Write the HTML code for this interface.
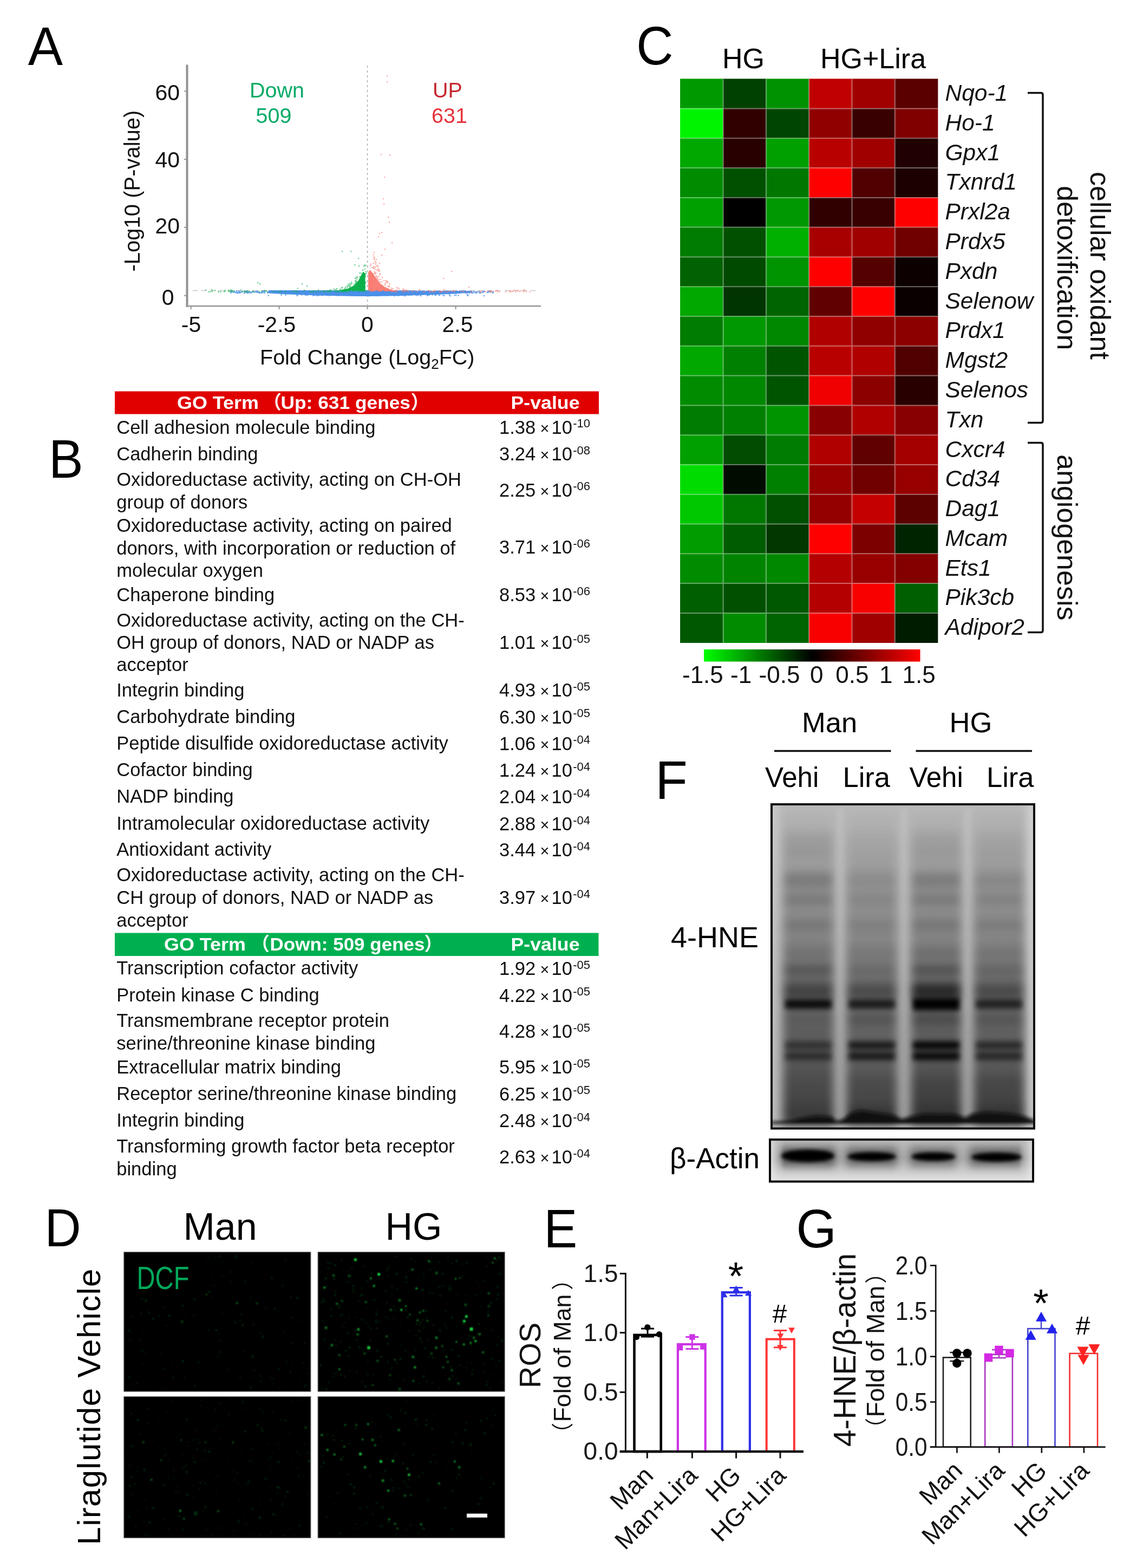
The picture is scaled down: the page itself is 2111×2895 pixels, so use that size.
<!DOCTYPE html>
<html lang="en"><head><meta charset="utf-8"><title>Figure</title>
<style>
html,body{margin:0;padding:0;background:#fff;}
body{width:2111px;height:2895px;overflow:hidden;}
svg{display:block;font-family:'Liberation Sans','Noto Sans CJK SC',sans-serif;}
</style></head><body>
<svg width="2111" height="2895" viewBox="0 0 2111 2895">
<rect width="2111" height="2895" fill="#fff"/>
<g id="panelA">
<text transform="translate(51.8 119.5) scale(0.97 1)" font-size="99.5">A</text>
<line x1="345.50" y1="119.50" x2="345.50" y2="567.00" stroke="#929292" stroke-width="4" />
<line x1="343.50" y1="565.20" x2="999.00" y2="565.20" stroke="#9c9c9c" stroke-width="2.8" />
<line x1="340.00" y1="545.70" x2="344.00" y2="545.70" stroke="#929292" stroke-width="2" />
<line x1="340.00" y1="419.90" x2="344.00" y2="419.90" stroke="#929292" stroke-width="2" />
<line x1="340.00" y1="294.10" x2="344.00" y2="294.10" stroke="#929292" stroke-width="2" />
<line x1="340.00" y1="168.30" x2="344.00" y2="168.30" stroke="#929292" stroke-width="2" />
<line x1="352.60" y1="566.00" x2="352.60" y2="571.00" stroke="#929292" stroke-width="2" />
<line x1="515.60" y1="566.00" x2="515.60" y2="571.00" stroke="#929292" stroke-width="2" />
<line x1="678.60" y1="566.00" x2="678.60" y2="571.00" stroke="#929292" stroke-width="2" />
<line x1="841.60" y1="566.00" x2="841.60" y2="571.00" stroke="#929292" stroke-width="2" />
<line x1="678.60" y1="121.00" x2="678.60" y2="565.00" stroke="#a8a8a8" stroke-width="1.5" stroke-dasharray="4 5"/>
<line x1="356.00" y1="536.50" x2="993.00" y2="536.50" stroke="#c4c4c4" stroke-width="1.5" stroke-dasharray="9 7"/>
<text x="332.0" y="185.0" font-size="41" text-anchor="end" fill="#111">60</text>
<text x="332.0" y="308.5" font-size="41" text-anchor="end" fill="#111">40</text>
<text x="332.0" y="431.0" font-size="41" text-anchor="end" fill="#111">20</text>
<text x="321.5" y="562.5" font-size="41" text-anchor="end" fill="#111">0</text>
<text x="353.0" y="613.0" font-size="41" text-anchor="middle" fill="#111">-5</text>
<text x="511.0" y="613.0" font-size="41" text-anchor="middle" fill="#111">-2.5</text>
<text x="678.3" y="613.0" font-size="41" text-anchor="middle" fill="#111">0</text>
<text x="845.0" y="613.0" font-size="41" text-anchor="middle" fill="#111">2.5</text>
<text x="480.0" y="673.0" font-size="39.5" fill="#111">Fold Change (Log<tspan font-size="26" dy="8">2</tspan><tspan dy="-8">FC)</tspan></text>
<text transform="translate(257.5 501.5) rotate(-90)" font-size="40" fill="#111">-Log10 (P-value)</text>
<text x="461.0" y="180.3" font-size="39.5" fill="#08ab68">Down</text>
<text x="472.5" y="226.8" font-size="39.5" fill="#08ab68">509</text>
<text x="799.0" y="180.3" font-size="39.5" fill="#c42830">UP</text>
<text x="797.0" y="226.8" font-size="39.5" fill="#e8343c">631</text>
<path d="M496 536 L872 536.2 L872 540 L840 542.4 L790 544.6 L730 546.2 L690 547 L660 547 L620 546.2 L560 544.6 L520 543 L496 540.6 Z" fill="#4a90e8"/>
<path d="M620 537 L642 533 L654 527 L662 518 L667 508 L671 502 L674.6 505 L674.6 538 L620 538 Z" fill="#0db14b"/>
<path d="M680 538 L680 503 L683 498 L689 505 L696 516 L703 525 L712 531 L726 536 L738 538 Z" fill="#f8766d" opacity="0.92"/>
<path d="M686.4 539.7h2.4v2.4h-2.4zM468.7 538.2h2.4v2.4h-2.4zM533.5 536.1h2.4v2.4h-2.4zM706.5 536.0h2.4v2.4h-2.4zM447.1 536.5h2.4v2.4h-2.4zM481.9 538.7h2.4v2.4h-2.4zM708.7 538.5h2.4v2.4h-2.4zM453.5 539.1h2.4v2.4h-2.4zM757.0 538.7h2.4v2.4h-2.4zM710.7 538.8h2.4v2.4h-2.4zM812.8 539.0h2.4v2.4h-2.4zM705.2 536.4h2.4v2.4h-2.4zM781.0 536.0h2.4v2.4h-2.4zM482.1 538.3h2.4v2.4h-2.4zM751.1 537.6h2.4v2.4h-2.4zM852.4 538.7h2.4v2.4h-2.4zM764.3 537.6h2.4v2.4h-2.4zM647.4 536.1h2.4v2.4h-2.4zM656.2 539.7h2.4v2.4h-2.4zM767.3 535.9h2.4v2.4h-2.4zM826.2 538.4h2.4v2.4h-2.4zM481.6 539.7h2.4v2.4h-2.4zM545.4 536.4h2.4v2.4h-2.4zM463.7 538.1h2.4v2.4h-2.4zM693.0 536.6h2.4v2.4h-2.4zM846.8 538.3h2.4v2.4h-2.4zM599.8 536.1h2.4v2.4h-2.4zM498.1 539.3h2.4v2.4h-2.4zM661.5 538.9h2.4v2.4h-2.4zM426.3 538.3h2.4v2.4h-2.4zM604.9 536.1h2.4v2.4h-2.4zM762.0 537.5h2.4v2.4h-2.4zM864.2 536.8h2.4v2.4h-2.4zM852.0 536.7h2.4v2.4h-2.4zM616.2 539.6h2.4v2.4h-2.4zM457.3 539.1h2.4v2.4h-2.4zM503.7 538.6h2.4v2.4h-2.4zM450.0 540.0h2.4v2.4h-2.4zM498.3 539.6h2.4v2.4h-2.4zM851.9 537.5h2.4v2.4h-2.4zM497.0 539.0h2.4v2.4h-2.4zM594.2 539.5h2.4v2.4h-2.4zM839.5 538.1h2.4v2.4h-2.4zM474.3 538.6h2.4v2.4h-2.4zM553.8 539.3h2.4v2.4h-2.4zM435.6 536.1h2.4v2.4h-2.4zM682.6 536.5h2.4v2.4h-2.4zM764.8 538.5h2.4v2.4h-2.4zM506.0 536.8h2.4v2.4h-2.4zM684.8 538.6h2.4v2.4h-2.4zM533.4 536.0h2.4v2.4h-2.4zM841.3 536.6h2.4v2.4h-2.4zM677.4 539.9h2.4v2.4h-2.4zM438.0 538.8h2.4v2.4h-2.4zM551.1 536.1h2.4v2.4h-2.4zM643.0 535.9h2.4v2.4h-2.4zM891.3 538.5h2.4v2.4h-2.4zM729.5 536.5h2.4v2.4h-2.4zM658.8 536.7h2.4v2.4h-2.4zM465.8 537.3h2.4v2.4h-2.4zM869.2 536.8h2.4v2.4h-2.4zM791.1 539.3h2.4v2.4h-2.4zM810.2 536.7h2.4v2.4h-2.4zM899.5 538.4h2.4v2.4h-2.4zM620.6 537.0h2.4v2.4h-2.4zM507.5 539.5h2.4v2.4h-2.4zM498.2 536.3h2.4v2.4h-2.4zM828.5 537.3h2.4v2.4h-2.4zM595.7 539.4h2.4v2.4h-2.4zM431.3 536.0h2.4v2.4h-2.4zM742.0 536.2h2.4v2.4h-2.4zM636.5 536.6h2.4v2.4h-2.4zM527.5 538.8h2.4v2.4h-2.4zM541.9 538.9h2.4v2.4h-2.4zM869.3 538.5h2.4v2.4h-2.4zM648.4 536.3h2.4v2.4h-2.4zM630.0 537.9h2.4v2.4h-2.4zM684.4 539.9h2.4v2.4h-2.4zM426.2 536.7h2.4v2.4h-2.4zM508.6 538.0h2.4v2.4h-2.4zM778.9 538.6h2.4v2.4h-2.4zM677.8 536.8h2.4v2.4h-2.4zM476.2 537.7h2.4v2.4h-2.4zM545.8 536.8h2.4v2.4h-2.4zM672.6 536.9h2.4v2.4h-2.4zM870.5 538.2h2.4v2.4h-2.4zM723.8 537.9h2.4v2.4h-2.4zM763.1 537.8h2.4v2.4h-2.4zM658.1 537.1h2.4v2.4h-2.4zM852.9 536.1h2.4v2.4h-2.4zM551.3 536.1h2.4v2.4h-2.4zM483.8 538.2h2.4v2.4h-2.4zM459.8 539.0h2.4v2.4h-2.4zM460.1 537.2h2.4v2.4h-2.4zM807.7 539.4h2.4v2.4h-2.4zM774.5 539.4h2.4v2.4h-2.4zM856.0 536.0h2.4v2.4h-2.4zM531.7 538.4h2.4v2.4h-2.4zM662.6 536.6h2.4v2.4h-2.4zM503.3 538.2h2.4v2.4h-2.4zM676.5 539.2h2.4v2.4h-2.4zM580.1 539.9h2.4v2.4h-2.4zM695.3 539.9h2.4v2.4h-2.4zM586.4 537.9h2.4v2.4h-2.4zM455.8 536.0h2.4v2.4h-2.4zM809.8 539.6h2.4v2.4h-2.4zM805.2 539.5h2.4v2.4h-2.4zM630.8 536.6h2.4v2.4h-2.4zM873.8 537.6h2.4v2.4h-2.4zM452.5 537.2h2.4v2.4h-2.4zM883.2 537.4h2.4v2.4h-2.4zM846.2 538.6h2.4v2.4h-2.4zM694.8 538.9h2.4v2.4h-2.4zM487.5 537.8h2.4v2.4h-2.4zM503.3 539.8h2.4v2.4h-2.4zM523.0 538.7h2.4v2.4h-2.4zM795.7 537.9h2.4v2.4h-2.4zM511.3 539.9h2.4v2.4h-2.4zM782.8 539.2h2.4v2.4h-2.4zM656.5 539.5h2.4v2.4h-2.4zM824.8 538.0h2.4v2.4h-2.4zM832.4 537.9h2.4v2.4h-2.4zM760.6 538.6h2.4v2.4h-2.4zM831.3 537.4h2.4v2.4h-2.4zM622.2 539.8h2.4v2.4h-2.4zM487.8 539.7h2.4v2.4h-2.4zM786.6 539.3h2.4v2.4h-2.4zM465.6 536.5h2.4v2.4h-2.4zM850.0 537.2h2.4v2.4h-2.4zM567.6 539.3h2.4v2.4h-2.4zM642.3 536.1h2.4v2.4h-2.4zM899.9 537.7h2.4v2.4h-2.4zM543.9 538.7h2.4v2.4h-2.4zM610.9 537.9h2.4v2.4h-2.4zM522.6 540.0h2.4v2.4h-2.4zM435.3 538.7h2.4v2.4h-2.4zM538.2 537.8h2.4v2.4h-2.4zM791.3 537.1h2.4v2.4h-2.4zM854.2 538.4h2.4v2.4h-2.4zM583.8 539.4h2.4v2.4h-2.4zM778.4 539.8h2.4v2.4h-2.4zM832.8 537.4h2.4v2.4h-2.4zM783.2 539.4h2.4v2.4h-2.4zM680.4 536.6h2.4v2.4h-2.4zM817.8 537.6h2.4v2.4h-2.4zM860.9 537.2h2.4v2.4h-2.4zM439.6 539.4h2.4v2.4h-2.4zM833.0 537.4h2.4v2.4h-2.4zM730.5 538.0h2.4v2.4h-2.4zM425.9 536.7h2.4v2.4h-2.4zM790.2 537.8h2.4v2.4h-2.4zM784.6 539.7h2.4v2.4h-2.4zM554.2 539.1h2.4v2.4h-2.4zM786.1 538.0h2.4v2.4h-2.4zM611.4 537.2h2.4v2.4h-2.4zM799.4 537.4h2.4v2.4h-2.4zM462.2 539.4h2.4v2.4h-2.4zM548.5 538.7h2.4v2.4h-2.4zM454.0 538.9h2.4v2.4h-2.4zM752.9 537.2h2.4v2.4h-2.4zM566.5 538.1h2.4v2.4h-2.4zM861.3 539.2h2.4v2.4h-2.4zM902.6 536.2h2.4v2.4h-2.4zM432.9 538.1h2.4v2.4h-2.4zM825.2 538.1h2.4v2.4h-2.4zM886.7 539.1h2.4v2.4h-2.4zM680.6 539.4h2.4v2.4h-2.4zM825.4 536.4h2.4v2.4h-2.4zM863.3 538.0h2.4v2.4h-2.4zM436.5 540.0h2.4v2.4h-2.4zM664.8 538.7h2.4v2.4h-2.4zM493.1 538.6h2.4v2.4h-2.4zM578.9 540.0h2.4v2.4h-2.4zM791.4 539.5h2.4v2.4h-2.4zM877.3 537.1h2.4v2.4h-2.4zM865.2 538.8h2.4v2.4h-2.4zM606.3 535.9h2.4v2.4h-2.4zM712.4 538.2h2.4v2.4h-2.4zM474.1 536.6h2.4v2.4h-2.4zM564.0 539.0h2.4v2.4h-2.4zM554.3 539.2h2.4v2.4h-2.4zM606.9 536.4h2.4v2.4h-2.4zM821.4 536.2h2.4v2.4h-2.4zM884.3 537.7h2.4v2.4h-2.4zM782.4 536.9h2.4v2.4h-2.4zM739.5 539.8h2.4v2.4h-2.4zM877.5 539.5h2.4v2.4h-2.4zM655.2 538.8h2.4v2.4h-2.4zM785.7 538.9h2.4v2.4h-2.4zM745.1 537.7h2.4v2.4h-2.4zM503.4 539.1h2.4v2.4h-2.4zM867.3 538.0h2.4v2.4h-2.4zM531.9 535.9h2.4v2.4h-2.4zM541.3 537.7h2.4v2.4h-2.4zM858.2 536.9h2.4v2.4h-2.4zM626.2 537.8h2.4v2.4h-2.4zM608.6 539.7h2.4v2.4h-2.4zM560.0 539.5h2.4v2.4h-2.4zM670.5 536.5h2.4v2.4h-2.4zM529.9 539.0h2.4v2.4h-2.4zM619.8 536.1h2.4v2.4h-2.4zM839.3 539.9h2.4v2.4h-2.4zM440.1 537.1h2.4v2.4h-2.4zM862.3 538.0h2.4v2.4h-2.4zM615.8 536.6h2.4v2.4h-2.4zM842.6 539.0h2.4v2.4h-2.4zM477.6 539.4h2.4v2.4h-2.4zM679.8 536.1h2.4v2.4h-2.4zM777.2 536.9h2.4v2.4h-2.4zM648.0 539.8h2.4v2.4h-2.4zM874.2 537.3h2.4v2.4h-2.4zM547.4 537.1h2.4v2.4h-2.4zM479.2 539.7h2.4v2.4h-2.4zM680.8 538.4h2.4v2.4h-2.4zM533.7 539.9h2.4v2.4h-2.4zM571.8 536.1h2.4v2.4h-2.4zM739.5 538.0h2.4v2.4h-2.4zM894.1 537.1h2.4v2.4h-2.4zM668.0 538.3h2.4v2.4h-2.4zM550.1 536.2h2.4v2.4h-2.4zM589.6 537.2h2.4v2.4h-2.4zM521.2 537.0h2.4v2.4h-2.4zM898.6 538.7h2.4v2.4h-2.4zM532.6 538.8h2.4v2.4h-2.4zM889.8 538.0h2.4v2.4h-2.4zM628.2 536.1h2.4v2.4h-2.4zM495.9 538.4h2.4v2.4h-2.4zM528.5 539.4h2.4v2.4h-2.4zM449.7 539.7h2.4v2.4h-2.4zM616.7 536.4h2.4v2.4h-2.4zM782.6 536.2h2.4v2.4h-2.4zM882.0 536.9h2.4v2.4h-2.4zM439.9 537.3h2.4v2.4h-2.4zM609.5 538.6h2.4v2.4h-2.4zM507.1 540.0h2.4v2.4h-2.4zM561.1 536.1h2.4v2.4h-2.4zM484.8 536.0h2.4v2.4h-2.4zM525.7 536.6h2.4v2.4h-2.4zM826.3 539.8h2.4v2.4h-2.4zM655.8 536.2h2.4v2.4h-2.4zM518.7 536.3h2.4v2.4h-2.4zM439.1 538.3h2.4v2.4h-2.4zM821.3 539.8h2.4v2.4h-2.4zM441.4 539.7h2.4v2.4h-2.4zM874.2 538.9h2.4v2.4h-2.4zM789.7 538.6h2.4v2.4h-2.4zM557.5 537.5h2.4v2.4h-2.4zM552.5 538.7h2.4v2.4h-2.4zM793.8 537.4h2.4v2.4h-2.4zM885.6 539.9h2.4v2.4h-2.4zM538.7 536.1h2.4v2.4h-2.4zM890.8 538.4h2.4v2.4h-2.4zM547.1 538.0h2.4v2.4h-2.4zM878.2 539.2h2.4v2.4h-2.4zM816.8 536.6h2.4v2.4h-2.4zM802.2 538.6h2.4v2.4h-2.4zM580.6 536.8h2.4v2.4h-2.4zM463.0 539.2h2.4v2.4h-2.4zM456.0 539.8h2.4v2.4h-2.4zM694.5 536.0h2.4v2.4h-2.4zM856.3 535.9h2.4v2.4h-2.4zM471.5 537.9h2.4v2.4h-2.4zM771.4 539.0h2.4v2.4h-2.4zM628.2 537.2h2.4v2.4h-2.4zM790.1 537.3h2.4v2.4h-2.4zM483.6 536.5h2.4v2.4h-2.4zM568.0 538.5h2.4v2.4h-2.4zM499.3 536.4h2.4v2.4h-2.4zM707.1 538.4h2.4v2.4h-2.4zM909.6 537.9h2.4v2.4h-2.4zM537.5 537.3h2.4v2.4h-2.4zM908.9 539.6h2.4v2.4h-2.4zM656.5 536.5h2.4v2.4h-2.4zM871.4 539.8h2.4v2.4h-2.4zM517.0 537.6h2.4v2.4h-2.4zM879.2 538.5h2.4v2.4h-2.4zM847.9 538.9h2.4v2.4h-2.4zM804.7 539.6h2.4v2.4h-2.4zM715.8 539.1h2.4v2.4h-2.4zM524.1 537.5h2.4v2.4h-2.4zM429.9 538.6h2.4v2.4h-2.4zM813.2 539.7h2.4v2.4h-2.4zM473.9 538.4h2.4v2.4h-2.4zM693.3 539.6h2.4v2.4h-2.4zM504.4 537.1h2.4v2.4h-2.4zM624.7 538.7h2.4v2.4h-2.4zM890.4 538.7h2.4v2.4h-2.4zM701.3 538.3h2.4v2.4h-2.4zM846.9 538.5h2.4v2.4h-2.4zM520.8 539.1h2.4v2.4h-2.4zM427.2 536.3h2.4v2.4h-2.4zM631.5 538.3h2.4v2.4h-2.4zM856.0 538.1h2.4v2.4h-2.4zM503.8 539.9h2.4v2.4h-2.4zM694.0 536.3h2.4v2.4h-2.4zM467.9 537.4h2.4v2.4h-2.4zM605.7 539.4h2.4v2.4h-2.4zM562.9 536.2h2.4v2.4h-2.4zM477.5 538.0h2.4v2.4h-2.4zM817.9 539.2h2.4v2.4h-2.4zM486.3 536.1h2.4v2.4h-2.4zM901.4 538.0h2.4v2.4h-2.4zM450.4 536.2h2.4v2.4h-2.4zM614.0 537.4h2.4v2.4h-2.4zM622.1 536.6h2.4v2.4h-2.4zM619.8 538.4h2.4v2.4h-2.4zM484.5 539.0h2.4v2.4h-2.4zM778.8 539.8h2.4v2.4h-2.4zM699.3 539.8h2.4v2.4h-2.4zM717.5 537.4h2.4v2.4h-2.4zM574.1 537.6h2.4v2.4h-2.4zM632.5 538.2h2.4v2.4h-2.4zM727.0 539.0h2.4v2.4h-2.4zM797.7 538.1h2.4v2.4h-2.4zM512.1 539.5h2.4v2.4h-2.4zM487.1 538.2h2.4v2.4h-2.4zM469.2 538.2h2.4v2.4h-2.4zM783.0 537.9h2.4v2.4h-2.4zM450.9 537.9h2.4v2.4h-2.4zM609.1 539.4h2.4v2.4h-2.4zM843.4 537.0h2.4v2.4h-2.4zM904.4 538.0h2.4v2.4h-2.4zM892.1 536.2h2.4v2.4h-2.4zM505.1 536.8h2.4v2.4h-2.4zM879.4 539.7h2.4v2.4h-2.4zM595.9 539.3h2.4v2.4h-2.4zM862.7 538.9h2.4v2.4h-2.4zM669.9 539.1h2.4v2.4h-2.4zM552.9 538.7h2.4v2.4h-2.4zM442.3 539.2h2.4v2.4h-2.4zM503.2 536.2h2.4v2.4h-2.4zM756.7 539.3h2.4v2.4h-2.4zM683.8 538.5h2.4v2.4h-2.4zM851.2 537.7h2.4v2.4h-2.4zM708.0 539.6h2.4v2.4h-2.4zM909.9 537.4h2.4v2.4h-2.4zM617.1 538.9h2.4v2.4h-2.4zM908.7 537.6h2.4v2.4h-2.4zM600.5 538.2h2.4v2.4h-2.4zM510.8 539.8h2.4v2.4h-2.4zM825.2 537.4h2.4v2.4h-2.4zM905.5 537.6h2.4v2.4h-2.4zM748.9 540.0h2.4v2.4h-2.4zM440.8 539.4h2.4v2.4h-2.4zM725.6 537.9h2.4v2.4h-2.4zM862.2 539.4h2.4v2.4h-2.4zM535.4 539.9h2.4v2.4h-2.4zM425.6 538.5h2.4v2.4h-2.4zM476.3 538.5h2.4v2.4h-2.4zM534.0 537.6h2.4v2.4h-2.4zM524.2 538.0h2.4v2.4h-2.4zM490.2 536.2h2.4v2.4h-2.4zM471.2 537.4h2.4v2.4h-2.4zM850.4 536.8h2.4v2.4h-2.4zM620.9 539.9h2.4v2.4h-2.4zM739.7 538.6h2.4v2.4h-2.4zM740.0 536.2h2.4v2.4h-2.4zM866.1 539.8h2.4v2.4h-2.4zM684.2 539.0h2.4v2.4h-2.4zM452.9 536.8h2.4v2.4h-2.4zM430.4 537.7h2.4v2.4h-2.4zM884.4 539.4h2.4v2.4h-2.4zM521.9 537.9h2.4v2.4h-2.4zM738.0 539.3h2.4v2.4h-2.4zM575.6 539.8h2.4v2.4h-2.4zM859.2 536.8h2.4v2.4h-2.4zM837.2 538.1h2.4v2.4h-2.4zM787.0 539.1h2.4v2.4h-2.4zM475.8 539.0h2.4v2.4h-2.4zM443.3 538.6h2.4v2.4h-2.4zM790.9 536.5h2.4v2.4h-2.4zM772.3 537.7h2.4v2.4h-2.4zM637.5 537.8h2.4v2.4h-2.4zM554.0 536.0h2.4v2.4h-2.4zM530.4 539.9h2.4v2.4h-2.4zM788.1 536.9h2.4v2.4h-2.4zM584.2 538.6h2.4v2.4h-2.4zM541.3 537.4h2.4v2.4h-2.4zM763.1 536.0h2.4v2.4h-2.4zM653.9 537.1h2.4v2.4h-2.4zM843.6 537.0h2.4v2.4h-2.4zM703.2 539.1h2.4v2.4h-2.4zM869.7 539.4h2.4v2.4h-2.4zM437.5 539.5h2.4v2.4h-2.4zM878.6 538.6h2.4v2.4h-2.4zM493.7 539.9h2.4v2.4h-2.4zM444.7 537.2h2.4v2.4h-2.4zM734.3 537.0h2.4v2.4h-2.4zM456.5 537.6h2.4v2.4h-2.4zM602.0 536.6h2.4v2.4h-2.4zM860.2 539.7h2.4v2.4h-2.4zM848.7 536.2h2.4v2.4h-2.4zM886.1 539.5h2.4v2.4h-2.4zM441.2 536.5h2.4v2.4h-2.4zM821.4 536.6h2.4v2.4h-2.4zM733.1 539.6h2.4v2.4h-2.4zM472.2 536.9h2.4v2.4h-2.4zM524.6 538.2h2.4v2.4h-2.4zM434.5 538.9h2.4v2.4h-2.4zM562.5 538.5h2.4v2.4h-2.4zM581.2 537.9h2.4v2.4h-2.4zM840.6 539.9h2.4v2.4h-2.4zM626.2 536.8h2.4v2.4h-2.4zM593.9 537.8h2.4v2.4h-2.4zM530.2 539.6h2.4v2.4h-2.4zM425.0 539.2h2.4v2.4h-2.4zM797.0 540.0h2.4v2.4h-2.4zM664.3 536.7h2.4v2.4h-2.4zM514.5 538.6h2.4v2.4h-2.4zM831.1 536.1h2.4v2.4h-2.4zM766.4 539.5h2.4v2.4h-2.4zM809.6 536.8h2.4v2.4h-2.4zM731.4 538.3h2.4v2.4h-2.4zM617.3 539.6h2.4v2.4h-2.4zM858.8 539.9h2.4v2.4h-2.4zM525.1 536.3h2.4v2.4h-2.4zM669.4 536.4h2.4v2.4h-2.4zM538.5 537.8h2.4v2.4h-2.4zM793.3 537.3h2.4v2.4h-2.4zM594.7 539.3h2.4v2.4h-2.4zM836.6 536.9h2.4v2.4h-2.4zM507.2 538.2h2.4v2.4h-2.4zM802.5 539.5h2.4v2.4h-2.4zM650.2 539.0h2.4v2.4h-2.4zM518.0 537.1h2.4v2.4h-2.4zM500.6 539.0h2.4v2.4h-2.4zM584.0 539.3h2.4v2.4h-2.4zM646.8 542.9h2.4v2.4h-2.4zM738.2 543.4h2.4v2.4h-2.4zM893.0 544.8h2.4v2.4h-2.4zM838.1 544.2h2.4v2.4h-2.4zM863.3 543.4h2.4v2.4h-2.4zM659.8 544.1h2.4v2.4h-2.4zM727.9 544.8h2.4v2.4h-2.4zM818.9 544.6h2.4v2.4h-2.4zM657.7 544.1h2.4v2.4h-2.4zM696.3 543.3h2.4v2.4h-2.4zM635.8 543.6h2.4v2.4h-2.4zM563.4 544.0h2.4v2.4h-2.4zM767.8 544.1h2.4v2.4h-2.4zM789.0 543.4h2.4v2.4h-2.4zM771.2 543.8h2.4v2.4h-2.4zM618.2 543.4h2.4v2.4h-2.4zM612.5 543.4h2.4v2.4h-2.4zM714.3 543.1h2.4v2.4h-2.4zM703.0 543.1h2.4v2.4h-2.4zM518.5 543.5h2.4v2.4h-2.4zM606.3 544.3h2.4v2.4h-2.4zM589.5 543.6h2.4v2.4h-2.4zM767.5 543.3h2.4v2.4h-2.4zM741.4 543.4h2.4v2.4h-2.4zM624.3 544.1h2.4v2.4h-2.4zM621.0 544.0h2.4v2.4h-2.4zM601.3 543.5h2.4v2.4h-2.4zM604.6 543.0h2.4v2.4h-2.4zM740.7 543.3h2.4v2.4h-2.4zM817.4 544.2h2.4v2.4h-2.4zM696.6 544.9h2.4v2.4h-2.4zM619.1 543.3h2.4v2.4h-2.4zM662.0 542.9h2.4v2.4h-2.4zM630.8 543.7h2.4v2.4h-2.4zM672.8 543.8h2.4v2.4h-2.4zM653.1 543.6h2.4v2.4h-2.4zM556.2 543.2h2.4v2.4h-2.4zM572.4 542.9h2.4v2.4h-2.4zM664.0 544.6h2.4v2.4h-2.4zM636.9 543.3h2.4v2.4h-2.4zM583.2 544.7h2.4v2.4h-2.4zM775.9 544.9h2.4v2.4h-2.4zM669.1 544.4h2.4v2.4h-2.4zM664.8 544.1h2.4v2.4h-2.4zM688.7 544.1h2.4v2.4h-2.4zM647.6 544.4h2.4v2.4h-2.4zM586.5 544.5h2.4v2.4h-2.4zM665.3 543.9h2.4v2.4h-2.4zM715.0 544.2h2.4v2.4h-2.4zM862.6 544.5h2.4v2.4h-2.4zM802.8 543.2h2.4v2.4h-2.4zM809.7 543.6h2.4v2.4h-2.4zM547.1 544.5h2.4v2.4h-2.4zM704.4 542.9h2.4v2.4h-2.4zM588.7 543.2h2.4v2.4h-2.4zM797.3 543.2h2.4v2.4h-2.4zM593.2 543.8h2.4v2.4h-2.4zM695.9 544.7h2.4v2.4h-2.4zM727.6 543.1h2.4v2.4h-2.4zM594.2 544.4h2.4v2.4h-2.4zM621.8 544.1h2.4v2.4h-2.4zM734.6 544.6h2.4v2.4h-2.4zM845.4 544.4h2.4v2.4h-2.4zM681.4 544.5h2.4v2.4h-2.4zM640.5 544.1h2.4v2.4h-2.4zM791.6 543.6h2.4v2.4h-2.4zM625.2 543.0h2.4v2.4h-2.4zM595.3 543.1h2.4v2.4h-2.4zM861.9 543.0h2.4v2.4h-2.4zM747.3 543.3h2.4v2.4h-2.4zM803.7 543.6h2.4v2.4h-2.4zM830.6 545.0h2.4v2.4h-2.4zM697.1 543.6h2.4v2.4h-2.4zM678.6 544.7h2.4v2.4h-2.4zM726.9 544.5h2.4v2.4h-2.4zM694.4 544.7h2.4v2.4h-2.4zM583.7 543.0h2.4v2.4h-2.4zM695.0 543.1h2.4v2.4h-2.4zM617.5 543.7h2.4v2.4h-2.4zM708.9 543.0h2.4v2.4h-2.4zM526.6 543.3h2.4v2.4h-2.4zM715.2 543.5h2.4v2.4h-2.4zM619.9 543.8h2.4v2.4h-2.4zM672.9 543.1h2.4v2.4h-2.4zM566.7 543.8h2.4v2.4h-2.4zM671.7 544.7h2.4v2.4h-2.4zM754.5 543.9h2.4v2.4h-2.4zM787.8 544.7h2.4v2.4h-2.4zM720.6 543.9h2.4v2.4h-2.4zM548.7 543.1h2.4v2.4h-2.4zM680.1 545.0h2.4v2.4h-2.4zM741.9 543.8h2.4v2.4h-2.4zM580.0 543.5h2.4v2.4h-2.4zM733.1 544.1h2.4v2.4h-2.4zM593.4 542.9h2.4v2.4h-2.4zM810.8 543.6h2.4v2.4h-2.4zM746.4 545.0h2.4v2.4h-2.4zM556.6 543.0h2.4v2.4h-2.4zM578.1 544.3h2.4v2.4h-2.4zM802.5 543.9h2.4v2.4h-2.4zM664.3 543.0h2.4v2.4h-2.4zM840.9 543.6h2.4v2.4h-2.4zM713.7 544.3h2.4v2.4h-2.4zM742.9 544.0h2.4v2.4h-2.4zM602.5 543.9h2.4v2.4h-2.4zM687.9 544.1h2.4v2.4h-2.4zM607.4 544.1h2.4v2.4h-2.4zM494.4 544.4h2.4v2.4h-2.4zM613.6 543.2h2.4v2.4h-2.4zM577.0 544.4h2.4v2.4h-2.4zM748.8 543.9h2.4v2.4h-2.4zM828.8 543.3h2.4v2.4h-2.4zM654.8 544.3h2.4v2.4h-2.4zM642.6 543.7h2.4v2.4h-2.4zM758.9 543.6h2.4v2.4h-2.4zM685.0 543.4h2.4v2.4h-2.4zM649.5 543.1h2.4v2.4h-2.4z" fill="#4a90e8" opacity="0.8"/>
<path d="M659.9 536.0h2.3v2.3h-2.3zM668.4 537.2h2.3v2.3h-2.3zM671.2 490.1h2.3v2.3h-2.3zM657.0 519.4h2.3v2.3h-2.3zM644.9 522.7h2.3v2.3h-2.3zM656.8 520.6h2.3v2.3h-2.3zM656.1 519.1h2.3v2.3h-2.3zM657.6 518.2h2.3v2.3h-2.3zM670.7 504.0h2.3v2.3h-2.3zM663.4 509.7h2.3v2.3h-2.3zM673.2 528.3h2.3v2.3h-2.3zM674.6 500.4h2.3v2.3h-2.3zM627.3 532.6h2.3v2.3h-2.3zM666.3 503.3h2.3v2.3h-2.3zM645.1 528.3h2.3v2.3h-2.3zM669.5 523.1h2.3v2.3h-2.3zM664.6 525.2h2.3v2.3h-2.3zM664.3 513.1h2.3v2.3h-2.3zM622.2 537.2h2.3v2.3h-2.3zM658.9 536.3h2.3v2.3h-2.3zM672.9 495.7h2.3v2.3h-2.3zM658.6 510.3h2.3v2.3h-2.3zM663.8 537.0h2.3v2.3h-2.3zM665.8 513.5h2.3v2.3h-2.3zM621.0 531.9h2.3v2.3h-2.3zM662.7 522.9h2.3v2.3h-2.3zM673.2 504.8h2.3v2.3h-2.3zM670.7 529.9h2.3v2.3h-2.3zM675.0 537.3h2.3v2.3h-2.3zM652.8 534.7h2.3v2.3h-2.3zM609.0 537.2h2.3v2.3h-2.3zM635.5 536.1h2.3v2.3h-2.3zM675.0 503.7h2.3v2.3h-2.3zM669.9 501.9h2.3v2.3h-2.3zM671.3 534.9h2.3v2.3h-2.3zM646.2 525.2h2.3v2.3h-2.3zM637.5 528.9h2.3v2.3h-2.3zM673.6 506.1h2.3v2.3h-2.3zM651.2 527.7h2.3v2.3h-2.3zM622.7 536.0h2.3v2.3h-2.3zM610.1 535.0h2.3v2.3h-2.3zM675.1 536.8h2.3v2.3h-2.3zM654.8 517.1h2.3v2.3h-2.3zM673.7 522.0h2.3v2.3h-2.3zM649.8 534.2h2.3v2.3h-2.3zM636.7 532.0h2.3v2.3h-2.3zM674.1 519.6h2.3v2.3h-2.3zM658.6 524.5h2.3v2.3h-2.3zM653.2 534.1h2.3v2.3h-2.3zM644.1 531.8h2.3v2.3h-2.3zM655.1 521.5h2.3v2.3h-2.3zM664.8 522.6h2.3v2.3h-2.3zM645.2 522.0h2.3v2.3h-2.3zM645.3 528.1h2.3v2.3h-2.3zM668.6 534.7h2.3v2.3h-2.3zM604.0 535.6h2.3v2.3h-2.3zM641.0 533.0h2.3v2.3h-2.3zM657.1 510.4h2.3v2.3h-2.3zM640.5 529.5h2.3v2.3h-2.3zM668.1 518.3h2.3v2.3h-2.3zM632.5 534.0h2.3v2.3h-2.3zM652.8 523.7h2.3v2.3h-2.3zM631.0 530.4h2.3v2.3h-2.3zM668.8 537.4h2.3v2.3h-2.3zM669.4 517.5h2.3v2.3h-2.3zM658.1 513.9h2.3v2.3h-2.3zM632.6 537.1h2.3v2.3h-2.3zM640.3 526.7h2.3v2.3h-2.3zM635.8 531.3h2.3v2.3h-2.3zM669.1 497.6h2.3v2.3h-2.3zM643.2 527.2h2.3v2.3h-2.3zM627.4 534.9h2.3v2.3h-2.3zM673.6 509.8h2.3v2.3h-2.3zM644.1 534.4h2.3v2.3h-2.3zM648.2 520.0h2.3v2.3h-2.3zM670.1 507.7h2.3v2.3h-2.3zM653.2 526.6h2.3v2.3h-2.3zM670.8 524.6h2.3v2.3h-2.3zM648.1 522.7h2.3v2.3h-2.3zM663.3 534.3h2.3v2.3h-2.3zM643.2 525.9h2.3v2.3h-2.3zM670.2 509.0h2.3v2.3h-2.3zM630.9 529.7h2.3v2.3h-2.3zM660.9 521.9h2.3v2.3h-2.3zM657.9 532.1h2.3v2.3h-2.3zM671.2 528.2h2.3v2.3h-2.3zM651.7 529.6h2.3v2.3h-2.3zM659.1 525.3h2.3v2.3h-2.3zM661.1 532.6h2.3v2.3h-2.3zM674.4 489.5h2.3v2.3h-2.3zM666.2 533.1h2.3v2.3h-2.3zM655.7 516.9h2.3v2.3h-2.3zM672.0 505.7h2.3v2.3h-2.3zM667.1 515.2h2.3v2.3h-2.3zM674.9 535.9h2.3v2.3h-2.3zM636.0 532.2h2.3v2.3h-2.3zM659.0 529.7h2.3v2.3h-2.3zM645.8 530.3h2.3v2.3h-2.3zM618.1 533.7h2.3v2.3h-2.3zM641.9 523.8h2.3v2.3h-2.3zM669.6 535.7h2.3v2.3h-2.3zM671.0 528.3h2.3v2.3h-2.3zM673.6 535.0h2.3v2.3h-2.3zM659.4 510.8h2.3v2.3h-2.3zM663.3 503.0h2.3v2.3h-2.3zM628.3 537.0h2.3v2.3h-2.3zM657.5 526.3h2.3v2.3h-2.3zM672.8 487.9h2.3v2.3h-2.3zM669.5 510.5h2.3v2.3h-2.3zM655.3 513.0h2.3v2.3h-2.3zM653.7 528.1h2.3v2.3h-2.3zM663.7 531.6h2.3v2.3h-2.3zM609.3 534.1h2.3v2.3h-2.3zM670.4 535.6h2.3v2.3h-2.3zM669.6 520.7h2.3v2.3h-2.3zM629.8 530.0h2.3v2.3h-2.3zM639.8 536.9h2.3v2.3h-2.3zM645.1 525.9h2.3v2.3h-2.3zM655.0 512.6h2.3v2.3h-2.3zM631.1 537.6h2.3v2.3h-2.3zM444.2 534.0h2.3v2.3h-2.3zM465.1 537.3h2.3v2.3h-2.3zM487.9 535.9h2.3v2.3h-2.3zM617.8 537.3h2.3v2.3h-2.3zM577.3 537.7h2.3v2.3h-2.3zM517.3 537.6h2.3v2.3h-2.3zM582.3 537.6h2.3v2.3h-2.3zM464.9 537.8h2.3v2.3h-2.3zM454.3 537.5h2.3v2.3h-2.3zM636.4 534.2h2.3v2.3h-2.3zM587.0 534.1h2.3v2.3h-2.3zM414.3 534.8h2.3v2.3h-2.3zM608.6 537.0h2.3v2.3h-2.3zM620.1 534.2h2.3v2.3h-2.3zM420.8 536.5h2.3v2.3h-2.3zM525.1 537.3h2.3v2.3h-2.3zM426.0 536.9h2.3v2.3h-2.3zM478.1 537.6h2.3v2.3h-2.3zM586.7 537.8h2.3v2.3h-2.3zM455.2 536.7h2.3v2.3h-2.3zM607.3 535.0h2.3v2.3h-2.3zM574.8 537.1h2.3v2.3h-2.3zM604.4 537.4h2.3v2.3h-2.3zM421.6 537.3h2.3v2.3h-2.3zM601.1 536.9h2.3v2.3h-2.3zM561.0 534.6h2.3v2.3h-2.3zM615.5 532.5h2.3v2.3h-2.3zM630.8 534.7h2.3v2.3h-2.3zM467.4 537.5h2.3v2.3h-2.3zM518.4 537.4h2.3v2.3h-2.3zM577.1 537.5h2.3v2.3h-2.3zM548.6 531.3h2.3v2.3h-2.3zM379.2 534.3h2.3v2.3h-2.3zM619.9 537.4h2.3v2.3h-2.3zM406.4 537.8h2.3v2.3h-2.3zM451.8 537.4h2.3v2.3h-2.3zM384.4 537.8h2.3v2.3h-2.3zM430.3 537.3h2.3v2.3h-2.3zM608.5 537.8h2.3v2.3h-2.3zM423.5 536.8h2.3v2.3h-2.3zM596.3 537.0h2.3v2.3h-2.3zM402.2 537.5h2.3v2.3h-2.3zM493.3 537.6h2.3v2.3h-2.3zM597.8 535.8h2.3v2.3h-2.3zM455.8 537.5h2.3v2.3h-2.3zM624.8 537.7h2.3v2.3h-2.3zM483.3 536.9h2.3v2.3h-2.3zM572.8 537.5h2.3v2.3h-2.3zM482.3 536.1h2.3v2.3h-2.3zM429.0 536.6h2.3v2.3h-2.3zM591.9 537.7h2.3v2.3h-2.3zM450.1 537.1h2.3v2.3h-2.3zM453.1 537.8h2.3v2.3h-2.3zM429.3 537.3h2.3v2.3h-2.3zM420.9 535.1h2.3v2.3h-2.3zM514.2 537.8h2.3v2.3h-2.3zM402.7 536.9h2.3v2.3h-2.3zM412.9 537.4h2.3v2.3h-2.3zM596.3 535.4h2.3v2.3h-2.3zM547.9 537.6h2.3v2.3h-2.3zM546.8 536.6h2.3v2.3h-2.3zM644.8 536.8h2.3v2.3h-2.3zM526.8 536.8h2.3v2.3h-2.3zM613.7 536.1h2.3v2.3h-2.3zM427.7 535.1h2.3v2.3h-2.3zM560.2 536.1h2.3v2.3h-2.3zM544.0 535.9h2.3v2.3h-2.3zM629.6 535.0h2.3v2.3h-2.3zM391.0 536.9h2.3v2.3h-2.3zM508.8 536.8h2.3v2.3h-2.3zM502.4 537.8h2.3v2.3h-2.3zM387.4 537.5h2.3v2.3h-2.3zM597.2 537.7h2.3v2.3h-2.3zM579.0 535.5h2.3v2.3h-2.3zM638.0 537.7h2.3v2.3h-2.3zM459.2 537.5h2.3v2.3h-2.3zM641.3 536.6h2.3v2.3h-2.3zM491.9 536.8h2.3v2.3h-2.3zM458.2 537.7h2.3v2.3h-2.3zM413.6 536.1h2.3v2.3h-2.3zM633.9 537.7h2.3v2.3h-2.3zM514.1 536.9h2.3v2.3h-2.3zM571.3 537.7h2.3v2.3h-2.3zM537.6 537.6h2.3v2.3h-2.3zM487.8 535.1h2.3v2.3h-2.3zM606.6 536.7h2.3v2.3h-2.3zM446.4 537.6h2.3v2.3h-2.3zM425.2 534.0h2.3v2.3h-2.3zM542.1 537.1h2.3v2.3h-2.3zM631.0 463.0h2.3v2.3h-2.3zM647.0 463.0h2.3v2.3h-2.3zM661.0 476.0h2.3v2.3h-2.3zM654.0 488.0h2.3v2.3h-2.3zM662.0 490.0h2.3v2.3h-2.3zM475.0 521.0h2.3v2.3h-2.3zM479.0 523.0h2.3v2.3h-2.3zM557.0 523.0h2.3v2.3h-2.3zM566.0 527.0h2.3v2.3h-2.3zM390.0 534.0h2.3v2.3h-2.3zM396.0 535.0h2.3v2.3h-2.3zM415.0 536.0h2.3v2.3h-2.3zM424.0 536.0h2.3v2.3h-2.3z" fill="#0db14b" opacity="0.6"/>
<path d="M717.7 528.2h2.3v2.3h-2.3zM691.7 481.7h2.3v2.3h-2.3zM711.2 529.4h2.3v2.3h-2.3zM687.2 515.5h2.3v2.3h-2.3zM693.0 482.9h2.3v2.3h-2.3zM713.8 518.1h2.3v2.3h-2.3zM714.9 520.4h2.3v2.3h-2.3zM682.9 509.7h2.3v2.3h-2.3zM743.8 532.6h2.3v2.3h-2.3zM687.5 509.5h2.3v2.3h-2.3zM701.5 523.8h2.3v2.3h-2.3zM696.7 534.3h2.3v2.3h-2.3zM693.0 509.3h2.3v2.3h-2.3zM682.3 530.3h2.3v2.3h-2.3zM750.3 534.5h2.3v2.3h-2.3zM735.9 532.7h2.3v2.3h-2.3zM714.3 519.2h2.3v2.3h-2.3zM724.1 537.1h2.3v2.3h-2.3zM701.9 527.7h2.3v2.3h-2.3zM704.1 528.4h2.3v2.3h-2.3zM697.1 495.0h2.3v2.3h-2.3zM700.9 527.8h2.3v2.3h-2.3zM696.2 516.7h2.3v2.3h-2.3zM740.8 535.8h2.3v2.3h-2.3zM689.0 494.0h2.3v2.3h-2.3zM684.4 503.4h2.3v2.3h-2.3zM743.0 534.7h2.3v2.3h-2.3zM688.0 505.9h2.3v2.3h-2.3zM696.8 530.6h2.3v2.3h-2.3zM684.4 530.0h2.3v2.3h-2.3zM688.7 509.8h2.3v2.3h-2.3zM688.5 520.8h2.3v2.3h-2.3zM683.7 507.2h2.3v2.3h-2.3zM717.7 526.7h2.3v2.3h-2.3zM698.4 509.2h2.3v2.3h-2.3zM686.3 493.0h2.3v2.3h-2.3zM693.9 508.2h2.3v2.3h-2.3zM700.4 519.0h2.3v2.3h-2.3zM689.1 521.3h2.3v2.3h-2.3zM686.8 504.6h2.3v2.3h-2.3zM691.3 502.2h2.3v2.3h-2.3zM682.1 519.3h2.3v2.3h-2.3zM720.6 533.8h2.3v2.3h-2.3zM697.8 515.5h2.3v2.3h-2.3zM688.4 469.3h2.3v2.3h-2.3zM688.7 484.9h2.3v2.3h-2.3zM685.2 533.5h2.3v2.3h-2.3zM722.0 531.1h2.3v2.3h-2.3zM683.1 516.5h2.3v2.3h-2.3zM693.2 496.8h2.3v2.3h-2.3zM684.1 524.7h2.3v2.3h-2.3zM744.5 533.8h2.3v2.3h-2.3zM685.1 517.5h2.3v2.3h-2.3zM690.4 494.9h2.3v2.3h-2.3zM700.6 504.2h2.3v2.3h-2.3zM715.5 527.4h2.3v2.3h-2.3zM708.1 517.0h2.3v2.3h-2.3zM709.7 525.3h2.3v2.3h-2.3zM711.9 521.1h2.3v2.3h-2.3zM730.0 536.3h2.3v2.3h-2.3zM721.9 537.5h2.3v2.3h-2.3zM710.2 522.8h2.3v2.3h-2.3zM695.3 489.3h2.3v2.3h-2.3zM698.5 519.4h2.3v2.3h-2.3zM711.8 517.2h2.3v2.3h-2.3zM700.1 522.3h2.3v2.3h-2.3zM693.6 512.7h2.3v2.3h-2.3zM707.0 529.0h2.3v2.3h-2.3zM691.6 504.4h2.3v2.3h-2.3zM691.4 518.1h2.3v2.3h-2.3zM712.1 518.0h2.3v2.3h-2.3zM695.4 515.4h2.3v2.3h-2.3zM685.8 518.8h2.3v2.3h-2.3zM684.9 503.6h2.3v2.3h-2.3zM698.9 533.8h2.3v2.3h-2.3zM731.3 534.5h2.3v2.3h-2.3zM718.1 523.0h2.3v2.3h-2.3zM744.2 536.5h2.3v2.3h-2.3zM692.7 486.1h2.3v2.3h-2.3zM682.1 535.1h2.3v2.3h-2.3zM698.1 515.7h2.3v2.3h-2.3zM731.3 530.3h2.3v2.3h-2.3zM697.0 491.2h2.3v2.3h-2.3zM696.1 512.5h2.3v2.3h-2.3zM704.5 524.8h2.3v2.3h-2.3zM690.5 500.3h2.3v2.3h-2.3zM690.3 477.6h2.3v2.3h-2.3zM703.9 519.9h2.3v2.3h-2.3zM683.9 516.5h2.3v2.3h-2.3zM691.9 504.5h2.3v2.3h-2.3zM698.6 499.6h2.3v2.3h-2.3zM747.1 535.3h2.3v2.3h-2.3zM693.2 503.0h2.3v2.3h-2.3zM690.1 503.6h2.3v2.3h-2.3zM715.0 534.1h2.3v2.3h-2.3zM689.3 472.8h2.3v2.3h-2.3zM716.1 527.7h2.3v2.3h-2.3zM684.2 486.7h2.3v2.3h-2.3zM704.8 511.0h2.3v2.3h-2.3zM724.7 532.1h2.3v2.3h-2.3zM685.2 520.2h2.3v2.3h-2.3zM695.9 512.9h2.3v2.3h-2.3zM685.9 526.3h2.3v2.3h-2.3zM701.3 514.6h2.3v2.3h-2.3zM690.4 474.9h2.3v2.3h-2.3zM701.7 535.9h2.3v2.3h-2.3zM692.2 492.0h2.3v2.3h-2.3zM689.0 491.1h2.3v2.3h-2.3zM681.9 521.9h2.3v2.3h-2.3zM718.0 527.3h2.3v2.3h-2.3zM703.4 530.8h2.3v2.3h-2.3zM695.3 509.8h2.3v2.3h-2.3zM687.9 493.7h2.3v2.3h-2.3zM696.7 490.6h2.3v2.3h-2.3zM698.6 519.8h2.3v2.3h-2.3zM684.4 528.5h2.3v2.3h-2.3zM709.7 534.8h2.3v2.3h-2.3zM683.9 527.9h2.3v2.3h-2.3zM696.3 498.1h2.3v2.3h-2.3zM700.4 505.6h2.3v2.3h-2.3zM683.1 536.8h2.3v2.3h-2.3zM710.7 529.6h2.3v2.3h-2.3zM706.4 526.9h2.3v2.3h-2.3zM685.5 521.4h2.3v2.3h-2.3zM683.9 486.7h2.3v2.3h-2.3zM698.9 522.7h2.3v2.3h-2.3zM693.5 516.5h2.3v2.3h-2.3zM683.0 489.6h2.3v2.3h-2.3zM699.0 496.9h2.3v2.3h-2.3zM693.2 503.2h2.3v2.3h-2.3zM687.5 534.6h2.3v2.3h-2.3zM734.1 530.5h2.3v2.3h-2.3zM689.3 477.8h2.3v2.3h-2.3zM715.0 531.4h2.3v2.3h-2.3zM699.9 498.7h2.3v2.3h-2.3zM695.2 489.8h2.3v2.3h-2.3zM687.3 511.9h2.3v2.3h-2.3zM706.7 531.0h2.3v2.3h-2.3zM800.4 535.0h2.3v2.3h-2.3zM847.2 535.7h2.3v2.3h-2.3zM782.8 537.6h2.3v2.3h-2.3zM813.5 537.6h2.3v2.3h-2.3zM977.4 537.4h2.3v2.3h-2.3zM867.8 537.7h2.3v2.3h-2.3zM860.4 537.2h2.3v2.3h-2.3zM825.5 537.7h2.3v2.3h-2.3zM750.7 535.4h2.3v2.3h-2.3zM811.6 537.4h2.3v2.3h-2.3zM768.8 537.4h2.3v2.3h-2.3zM781.1 537.8h2.3v2.3h-2.3zM895.3 537.3h2.3v2.3h-2.3zM759.4 536.1h2.3v2.3h-2.3zM742.5 537.4h2.3v2.3h-2.3zM940.9 537.6h2.3v2.3h-2.3zM836.2 535.3h2.3v2.3h-2.3zM932.9 537.6h2.3v2.3h-2.3zM812.1 536.1h2.3v2.3h-2.3zM818.5 533.4h2.3v2.3h-2.3zM773.3 533.7h2.3v2.3h-2.3zM852.7 537.5h2.3v2.3h-2.3zM838.7 537.6h2.3v2.3h-2.3zM906.6 537.4h2.3v2.3h-2.3zM958.2 536.6h2.3v2.3h-2.3zM816.1 537.4h2.3v2.3h-2.3zM880.3 537.5h2.3v2.3h-2.3zM950.9 537.7h2.3v2.3h-2.3zM854.9 536.8h2.3v2.3h-2.3zM790.0 535.8h2.3v2.3h-2.3zM820.6 536.4h2.3v2.3h-2.3zM869.5 537.3h2.3v2.3h-2.3zM822.0 537.7h2.3v2.3h-2.3zM765.0 535.2h2.3v2.3h-2.3zM803.5 536.3h2.3v2.3h-2.3zM746.8 536.7h2.3v2.3h-2.3zM814.4 536.9h2.3v2.3h-2.3zM797.1 537.7h2.3v2.3h-2.3zM800.9 537.5h2.3v2.3h-2.3zM751.4 536.1h2.3v2.3h-2.3zM793.2 537.1h2.3v2.3h-2.3zM960.7 535.8h2.3v2.3h-2.3zM953.7 535.1h2.3v2.3h-2.3zM753.1 537.4h2.3v2.3h-2.3zM725.6 536.3h2.3v2.3h-2.3zM895.1 537.2h2.3v2.3h-2.3zM828.0 536.3h2.3v2.3h-2.3zM904.6 537.4h2.3v2.3h-2.3zM944.1 537.2h2.3v2.3h-2.3zM885.8 537.6h2.3v2.3h-2.3zM748.5 534.5h2.3v2.3h-2.3zM913.9 536.1h2.3v2.3h-2.3zM728.5 537.8h2.3v2.3h-2.3zM761.0 537.5h2.3v2.3h-2.3zM798.7 537.2h2.3v2.3h-2.3zM728.2 537.3h2.3v2.3h-2.3zM888.4 537.6h2.3v2.3h-2.3zM942.1 536.7h2.3v2.3h-2.3zM909.3 537.4h2.3v2.3h-2.3zM834.0 536.2h2.3v2.3h-2.3zM811.0 537.8h2.3v2.3h-2.3zM940.7 535.8h2.3v2.3h-2.3zM794.3 537.8h2.3v2.3h-2.3zM946.1 536.5h2.3v2.3h-2.3zM730.4 537.4h2.3v2.3h-2.3zM747.4 535.7h2.3v2.3h-2.3zM773.9 534.4h2.3v2.3h-2.3zM918.1 537.7h2.3v2.3h-2.3zM903.4 537.1h2.3v2.3h-2.3zM917.6 535.4h2.3v2.3h-2.3zM792.9 537.7h2.3v2.3h-2.3zM970.7 537.1h2.3v2.3h-2.3zM966.4 536.2h2.3v2.3h-2.3zM915.2 535.4h2.3v2.3h-2.3zM885.6 537.0h2.3v2.3h-2.3zM732.2 536.2h2.3v2.3h-2.3zM832.2 536.8h2.3v2.3h-2.3zM965.8 537.6h2.3v2.3h-2.3zM921.4 537.8h2.3v2.3h-2.3zM905.6 535.6h2.3v2.3h-2.3zM714.0 139.0h2.3v2.3h-2.3zM714.0 150.0h2.3v2.3h-2.3zM703.0 284.0h2.3v2.3h-2.3zM719.0 285.0h2.3v2.3h-2.3zM709.0 326.0h2.3v2.3h-2.3zM707.0 366.0h2.3v2.3h-2.3zM708.0 376.0h2.3v2.3h-2.3zM716.0 400.0h2.3v2.3h-2.3zM718.0 409.0h2.3v2.3h-2.3zM700.0 430.0h2.3v2.3h-2.3zM704.0 428.0h2.3v2.3h-2.3zM698.0 436.0h2.3v2.3h-2.3zM723.0 447.0h2.3v2.3h-2.3zM710.0 459.0h2.3v2.3h-2.3zM690.0 465.0h2.3v2.3h-2.3zM704.0 470.0h2.3v2.3h-2.3zM694.0 478.0h2.3v2.3h-2.3zM700.0 485.0h2.3v2.3h-2.3zM833.0 500.0h2.3v2.3h-2.3zM818.0 513.0h2.3v2.3h-2.3zM865.0 529.0h2.3v2.3h-2.3zM900.0 536.0h2.3v2.3h-2.3zM940.0 536.0h2.3v2.3h-2.3zM948.0 535.0h2.3v2.3h-2.3zM955.0 536.0h2.3v2.3h-2.3zM967.0 534.0h2.3v2.3h-2.3z" fill="#f8766d" opacity="0.6"/>
</g>
<g id="panelB">
<text transform="translate(89.9 881.7) scale(0.96 1)" font-size="99.5">B</text>
<rect x="212.00" y="722.50" width="894.00" height="42.00" fill="#e00000" />
<rect x="212.00" y="1722.50" width="893.50" height="42.50" fill="#00b050" />
<text y="754.5" font-size="34" font-weight="bold" fill="#fff"><tspan x="327" textLength="151" lengthAdjust="spacingAndGlyphs">GO Term</tspan><tspan> </tspan><tspan x="486">（</tspan><tspan x="518.5" textLength="239.5" lengthAdjust="spacingAndGlyphs">Up: 631 genes</tspan><tspan x="758.5">）</tspan></text>
<text x="943.5" y="754.5" font-size="34" font-weight="bold" fill="#fff" textLength="127.0" lengthAdjust="spacingAndGlyphs">P-value</text>
<text x="215.2" y="801.2" font-size="34.55" fill="#111">Cell adhesion molecule binding</text>
<text y="800.5" font-size="34.55" fill="#111"><tspan x="922">1.38</tspan><tspan x="997.5" font-size="29">×</tspan><tspan x="1018.6" font-size="34.55">10</tspan><tspan x="1058.3" font-size="22" dy="-11.5">-10</tspan></text>
<text x="215.2" y="849.7" font-size="34.55" fill="#111">Cadherin binding</text>
<text y="850.0" font-size="34.55" fill="#111"><tspan x="922">3.24</tspan><tspan x="997.5" font-size="29">×</tspan><tspan x="1018.6" font-size="34.55">10</tspan><tspan x="1058.3" font-size="22" dy="-11.5">-08</tspan></text>
<text x="215.2" y="897.2" font-size="34.55" fill="#111">Oxidoreductase activity, acting on CH-OH</text>
<text x="215.2" y="939.2" font-size="34.55" fill="#111">group of donors</text>
<text y="916.6" font-size="34.55" fill="#111"><tspan x="922">2.25</tspan><tspan x="997.5" font-size="29">×</tspan><tspan x="1018.6" font-size="34.55">10</tspan><tspan x="1058.3" font-size="22" dy="-11.5">-06</tspan></text>
<text x="215.2" y="981.7" font-size="34.55" fill="#111">Oxidoreductase activity, acting on paired</text>
<text x="215.2" y="1023.7" font-size="34.55" fill="#111">donors, with incorporation or reduction of</text>
<text x="215.2" y="1064.7" font-size="34.55" fill="#111">molecular oxygen</text>
<text y="1022.0" font-size="34.55" fill="#111"><tspan x="922">3.71</tspan><tspan x="997.5" font-size="29">×</tspan><tspan x="1018.6" font-size="34.55">10</tspan><tspan x="1058.3" font-size="22" dy="-11.5">-06</tspan></text>
<text x="215.2" y="1110.2" font-size="34.55" fill="#111">Chaperone binding</text>
<text y="1110.0" font-size="34.55" fill="#111"><tspan x="922">8.53</tspan><tspan x="997.5" font-size="29">×</tspan><tspan x="1018.6" font-size="34.55">10</tspan><tspan x="1058.3" font-size="22" dy="-11.5">-06</tspan></text>
<text x="215.2" y="1156.7" font-size="34.55" fill="#111">Oxidoreductase activity, acting on the CH-</text>
<text x="215.2" y="1198.2" font-size="34.55" fill="#111">OH group of donors, NAD or NADP as</text>
<text x="215.2" y="1239.2" font-size="34.55" fill="#111">acceptor</text>
<text y="1198.0" font-size="34.55" fill="#111"><tspan x="922">1.01</tspan><tspan x="997.5" font-size="29">×</tspan><tspan x="1018.6" font-size="34.55">10</tspan><tspan x="1058.3" font-size="22" dy="-11.5">-05</tspan></text>
<text x="215.2" y="1285.7" font-size="34.55" fill="#111">Integrin binding</text>
<text y="1286.0" font-size="34.55" fill="#111"><tspan x="922">4.93</tspan><tspan x="997.5" font-size="29">×</tspan><tspan x="1018.6" font-size="34.55">10</tspan><tspan x="1058.3" font-size="22" dy="-11.5">-05</tspan></text>
<text x="215.2" y="1335.2" font-size="34.55" fill="#111">Carbohydrate binding</text>
<text y="1335.5" font-size="34.55" fill="#111"><tspan x="922">6.30</tspan><tspan x="997.5" font-size="29">×</tspan><tspan x="1018.6" font-size="34.55">10</tspan><tspan x="1058.3" font-size="22" dy="-11.5">-05</tspan></text>
<text x="215.2" y="1383.8" font-size="34.55" fill="#111">Peptide disulfide oxidoreductase activity</text>
<text y="1384.5" font-size="34.55" fill="#111"><tspan x="922">1.06</tspan><tspan x="997.5" font-size="29">×</tspan><tspan x="1018.6" font-size="34.55">10</tspan><tspan x="1058.3" font-size="22" dy="-11.5">-04</tspan></text>
<text x="215.2" y="1433.2" font-size="34.55" fill="#111">Cofactor binding</text>
<text y="1434.0" font-size="34.55" fill="#111"><tspan x="922">1.24</tspan><tspan x="997.5" font-size="29">×</tspan><tspan x="1018.6" font-size="34.55">10</tspan><tspan x="1058.3" font-size="22" dy="-11.5">-04</tspan></text>
<text x="215.2" y="1482.2" font-size="34.55" fill="#111">NADP binding</text>
<text y="1483.0" font-size="34.55" fill="#111"><tspan x="922">2.04</tspan><tspan x="997.5" font-size="29">×</tspan><tspan x="1018.6" font-size="34.55">10</tspan><tspan x="1058.3" font-size="22" dy="-11.5">-04</tspan></text>
<text x="215.2" y="1532.2" font-size="34.55" fill="#111">Intramolecular oxidoreductase activity</text>
<text y="1533.0" font-size="34.55" fill="#111"><tspan x="922">2.88</tspan><tspan x="997.5" font-size="29">×</tspan><tspan x="1018.6" font-size="34.55">10</tspan><tspan x="1058.3" font-size="22" dy="-11.5">-04</tspan></text>
<text x="215.2" y="1580.2" font-size="34.55" fill="#111">Antioxidant activity</text>
<text y="1581.0" font-size="34.55" fill="#111"><tspan x="922">3.44</tspan><tspan x="997.5" font-size="29">×</tspan><tspan x="1018.6" font-size="34.55">10</tspan><tspan x="1058.3" font-size="22" dy="-11.5">-04</tspan></text>
<text x="215.2" y="1627.2" font-size="34.55" fill="#111">Oxidoreductase activity, acting on the CH-</text>
<text x="215.2" y="1669.2" font-size="34.55" fill="#111">CH group of donors, NAD or NADP as</text>
<text x="215.2" y="1710.7" font-size="34.55" fill="#111">acceptor</text>
<text y="1669.0" font-size="34.55" fill="#111"><tspan x="922">3.97</tspan><tspan x="997.5" font-size="29">×</tspan><tspan x="1018.6" font-size="34.55">10</tspan><tspan x="1058.3" font-size="22" dy="-11.5">-04</tspan></text>
<text x="215.2" y="1799.2" font-size="34.55" fill="#111">Transcription cofactor activity</text>
<text y="1800.0" font-size="34.55" fill="#111"><tspan x="922">1.92</tspan><tspan x="997.5" font-size="29">×</tspan><tspan x="1018.6" font-size="34.55">10</tspan><tspan x="1058.3" font-size="22" dy="-11.5">-05</tspan></text>
<text x="215.2" y="1848.7" font-size="34.55" fill="#111">Protein kinase C binding</text>
<text y="1849.5" font-size="34.55" fill="#111"><tspan x="922">4.22</tspan><tspan x="997.5" font-size="29">×</tspan><tspan x="1018.6" font-size="34.55">10</tspan><tspan x="1058.3" font-size="22" dy="-11.5">-05</tspan></text>
<text x="215.2" y="1895.9" font-size="34.55" fill="#111">Transmembrane receptor protein</text>
<text x="215.2" y="1938.2" font-size="34.55" fill="#111">serine/threonine kinase binding</text>
<text y="1916.0" font-size="34.55" fill="#111"><tspan x="922">4.28</tspan><tspan x="997.5" font-size="29">×</tspan><tspan x="1018.6" font-size="34.55">10</tspan><tspan x="1058.3" font-size="22" dy="-11.5">-05</tspan></text>
<text x="215.2" y="1981.9" font-size="34.55" fill="#111">Extracellular matrix binding</text>
<text y="1982.0" font-size="34.55" fill="#111"><tspan x="922">5.95</tspan><tspan x="997.5" font-size="29">×</tspan><tspan x="1018.6" font-size="34.55">10</tspan><tspan x="1058.3" font-size="22" dy="-11.5">-05</tspan></text>
<text x="215.2" y="2030.9" font-size="34.55" fill="#111">Receptor serine/threonine kinase binding</text>
<text y="2031.5" font-size="34.55" fill="#111"><tspan x="922">6.25</tspan><tspan x="997.5" font-size="29">×</tspan><tspan x="1018.6" font-size="34.55">10</tspan><tspan x="1058.3" font-size="22" dy="-11.5">-05</tspan></text>
<text x="215.2" y="2080.2" font-size="34.55" fill="#111">Integrin binding</text>
<text y="2081.0" font-size="34.55" fill="#111"><tspan x="922">2.48</tspan><tspan x="997.5" font-size="29">×</tspan><tspan x="1018.6" font-size="34.55">10</tspan><tspan x="1058.3" font-size="22" dy="-11.5">-04</tspan></text>
<text x="215.2" y="2127.8" font-size="34.55" fill="#111">Transforming growth factor beta receptor</text>
<text x="215.2" y="2170.2" font-size="34.55" fill="#111">binding</text>
<text y="2148.0" font-size="34.55" fill="#111"><tspan x="922">2.63</tspan><tspan x="997.5" font-size="29">×</tspan><tspan x="1018.6" font-size="34.55">10</tspan><tspan x="1058.3" font-size="22" dy="-11.5">-04</tspan></text>
<text y="1754.8" font-size="34" font-weight="bold" fill="#fff"><tspan x="303" textLength="151" lengthAdjust="spacingAndGlyphs">GO Term</tspan><tspan> </tspan><tspan x="464">（</tspan><tspan x="498.5" textLength="286" lengthAdjust="spacingAndGlyphs">Down: 509 genes</tspan><tspan x="783.5">）</tspan></text>
<text x="943.5" y="1754.8" font-size="34" font-weight="bold" fill="#fff" textLength="127.0" lengthAdjust="spacingAndGlyphs">P-value</text>
</g>
<g id="panelC">
<text transform="translate(1175.3 118.9) scale(0.95 1)" font-size="99.5">C</text>
<text x="1334.0" y="125.5" font-size="52">HG</text>
<text x="1515.0" y="125.5" font-size="52">HG+Lira</text>
<rect x="1256.10" y="145.40" width="79.87" height="55.39" fill="#009a00" />
<rect x="1335.37" y="145.40" width="79.87" height="55.39" fill="#004000" />
<rect x="1414.64" y="145.40" width="79.87" height="55.39" fill="#009200" />
<rect x="1493.91" y="145.40" width="79.87" height="55.39" fill="#c00000" />
<rect x="1573.18" y="145.40" width="79.87" height="55.39" fill="#a00000" />
<rect x="1652.45" y="145.40" width="79.87" height="55.39" fill="#5a0000" />
<rect x="1256.10" y="200.19" width="79.87" height="55.39" fill="#00f400" />
<rect x="1335.37" y="200.19" width="79.87" height="55.39" fill="#300000" />
<rect x="1414.64" y="200.19" width="79.87" height="55.39" fill="#004500" />
<rect x="1493.91" y="200.19" width="79.87" height="55.39" fill="#900000" />
<rect x="1573.18" y="200.19" width="79.87" height="55.39" fill="#380000" />
<rect x="1652.45" y="200.19" width="79.87" height="55.39" fill="#800000" />
<rect x="1256.10" y="254.98" width="79.87" height="55.39" fill="#00a800" />
<rect x="1335.37" y="254.98" width="79.87" height="55.39" fill="#280000" />
<rect x="1414.64" y="254.98" width="79.87" height="55.39" fill="#00a000" />
<rect x="1493.91" y="254.98" width="79.87" height="55.39" fill="#b80000" />
<rect x="1573.18" y="254.98" width="79.87" height="55.39" fill="#a00000" />
<rect x="1652.45" y="254.98" width="79.87" height="55.39" fill="#200000" />
<rect x="1256.10" y="309.77" width="79.87" height="55.39" fill="#008c00" />
<rect x="1335.37" y="309.77" width="79.87" height="55.39" fill="#005000" />
<rect x="1414.64" y="309.77" width="79.87" height="55.39" fill="#007800" />
<rect x="1493.91" y="309.77" width="79.87" height="55.39" fill="#ff0000" />
<rect x="1573.18" y="309.77" width="79.87" height="55.39" fill="#500000" />
<rect x="1652.45" y="309.77" width="79.87" height="55.39" fill="#1c0000" />
<rect x="1256.10" y="364.56" width="79.87" height="55.39" fill="#00a000" />
<rect x="1335.37" y="364.56" width="79.87" height="55.39" fill="#000000" />
<rect x="1414.64" y="364.56" width="79.87" height="55.39" fill="#009800" />
<rect x="1493.91" y="364.56" width="79.87" height="55.39" fill="#300000" />
<rect x="1573.18" y="364.56" width="79.87" height="55.39" fill="#380000" />
<rect x="1652.45" y="364.56" width="79.87" height="55.39" fill="#ff0000" />
<rect x="1256.10" y="419.35" width="79.87" height="55.39" fill="#007c00" />
<rect x="1335.37" y="419.35" width="79.87" height="55.39" fill="#005000" />
<rect x="1414.64" y="419.35" width="79.87" height="55.39" fill="#00b000" />
<rect x="1493.91" y="419.35" width="79.87" height="55.39" fill="#a80000" />
<rect x="1573.18" y="419.35" width="79.87" height="55.39" fill="#a00000" />
<rect x="1652.45" y="419.35" width="79.87" height="55.39" fill="#700000" />
<rect x="1256.10" y="474.14" width="79.87" height="55.39" fill="#006200" />
<rect x="1335.37" y="474.14" width="79.87" height="55.39" fill="#004a00" />
<rect x="1414.64" y="474.14" width="79.87" height="55.39" fill="#009400" />
<rect x="1493.91" y="474.14" width="79.87" height="55.39" fill="#ff0000" />
<rect x="1573.18" y="474.14" width="79.87" height="55.39" fill="#550000" />
<rect x="1652.45" y="474.14" width="79.87" height="55.39" fill="#0c0000" />
<rect x="1256.10" y="528.93" width="79.87" height="55.39" fill="#00a800" />
<rect x="1335.37" y="528.93" width="79.87" height="55.39" fill="#003400" />
<rect x="1414.64" y="528.93" width="79.87" height="55.39" fill="#006400" />
<rect x="1493.91" y="528.93" width="79.87" height="55.39" fill="#600000" />
<rect x="1573.18" y="528.93" width="79.87" height="55.39" fill="#ff0000" />
<rect x="1652.45" y="528.93" width="79.87" height="55.39" fill="#0a0000" />
<rect x="1256.10" y="583.72" width="79.87" height="55.39" fill="#007c00" />
<rect x="1335.37" y="583.72" width="79.87" height="55.39" fill="#009800" />
<rect x="1414.64" y="583.72" width="79.87" height="55.39" fill="#008800" />
<rect x="1493.91" y="583.72" width="79.87" height="55.39" fill="#b00000" />
<rect x="1573.18" y="583.72" width="79.87" height="55.39" fill="#900000" />
<rect x="1652.45" y="583.72" width="79.87" height="55.39" fill="#8c0000" />
<rect x="1256.10" y="638.51" width="79.87" height="55.39" fill="#00a800" />
<rect x="1335.37" y="638.51" width="79.87" height="55.39" fill="#008000" />
<rect x="1414.64" y="638.51" width="79.87" height="55.39" fill="#005400" />
<rect x="1493.91" y="638.51" width="79.87" height="55.39" fill="#b80000" />
<rect x="1573.18" y="638.51" width="79.87" height="55.39" fill="#b00000" />
<rect x="1652.45" y="638.51" width="79.87" height="55.39" fill="#500000" />
<rect x="1256.10" y="693.30" width="79.87" height="55.39" fill="#008c00" />
<rect x="1335.37" y="693.30" width="79.87" height="55.39" fill="#008800" />
<rect x="1414.64" y="693.30" width="79.87" height="55.39" fill="#005400" />
<rect x="1493.91" y="693.30" width="79.87" height="55.39" fill="#f00000" />
<rect x="1573.18" y="693.30" width="79.87" height="55.39" fill="#8c0000" />
<rect x="1652.45" y="693.30" width="79.87" height="55.39" fill="#280000" />
<rect x="1256.10" y="748.09" width="79.87" height="55.39" fill="#007c00" />
<rect x="1335.37" y="748.09" width="79.87" height="55.39" fill="#008000" />
<rect x="1414.64" y="748.09" width="79.87" height="55.39" fill="#009400" />
<rect x="1493.91" y="748.09" width="79.87" height="55.39" fill="#880000" />
<rect x="1573.18" y="748.09" width="79.87" height="55.39" fill="#b00000" />
<rect x="1652.45" y="748.09" width="79.87" height="55.39" fill="#880000" />
<rect x="1256.10" y="802.88" width="79.87" height="55.39" fill="#00a000" />
<rect x="1335.37" y="802.88" width="79.87" height="55.39" fill="#004c00" />
<rect x="1414.64" y="802.88" width="79.87" height="55.39" fill="#007c00" />
<rect x="1493.91" y="802.88" width="79.87" height="55.39" fill="#b00000" />
<rect x="1573.18" y="802.88" width="79.87" height="55.39" fill="#600000" />
<rect x="1652.45" y="802.88" width="79.87" height="55.39" fill="#a40000" />
<rect x="1256.10" y="857.67" width="79.87" height="55.39" fill="#00dc00" />
<rect x="1335.37" y="857.67" width="79.87" height="55.39" fill="#000c00" />
<rect x="1414.64" y="857.67" width="79.87" height="55.39" fill="#008000" />
<rect x="1493.91" y="857.67" width="79.87" height="55.39" fill="#980000" />
<rect x="1573.18" y="857.67" width="79.87" height="55.39" fill="#700000" />
<rect x="1652.45" y="857.67" width="79.87" height="55.39" fill="#980000" />
<rect x="1256.10" y="912.46" width="79.87" height="55.39" fill="#00c800" />
<rect x="1335.37" y="912.46" width="79.87" height="55.39" fill="#007800" />
<rect x="1414.64" y="912.46" width="79.87" height="55.39" fill="#005000" />
<rect x="1493.91" y="912.46" width="79.87" height="55.39" fill="#940000" />
<rect x="1573.18" y="912.46" width="79.87" height="55.39" fill="#c40000" />
<rect x="1652.45" y="912.46" width="79.87" height="55.39" fill="#5c0000" />
<rect x="1256.10" y="967.25" width="79.87" height="55.39" fill="#009c00" />
<rect x="1335.37" y="967.25" width="79.87" height="55.39" fill="#005c00" />
<rect x="1414.64" y="967.25" width="79.87" height="55.39" fill="#003800" />
<rect x="1493.91" y="967.25" width="79.87" height="55.39" fill="#ff0000" />
<rect x="1573.18" y="967.25" width="79.87" height="55.39" fill="#7c0000" />
<rect x="1652.45" y="967.25" width="79.87" height="55.39" fill="#002400" />
<rect x="1256.10" y="1022.04" width="79.87" height="55.39" fill="#008c00" />
<rect x="1335.37" y="1022.04" width="79.87" height="55.39" fill="#008400" />
<rect x="1414.64" y="1022.04" width="79.87" height="55.39" fill="#008800" />
<rect x="1493.91" y="1022.04" width="79.87" height="55.39" fill="#b40000" />
<rect x="1573.18" y="1022.04" width="79.87" height="55.39" fill="#980000" />
<rect x="1652.45" y="1022.04" width="79.87" height="55.39" fill="#840000" />
<rect x="1256.10" y="1076.83" width="79.87" height="55.39" fill="#006000" />
<rect x="1335.37" y="1076.83" width="79.87" height="55.39" fill="#005000" />
<rect x="1414.64" y="1076.83" width="79.87" height="55.39" fill="#005800" />
<rect x="1493.91" y="1076.83" width="79.87" height="55.39" fill="#b40000" />
<rect x="1573.18" y="1076.83" width="79.87" height="55.39" fill="#f80000" />
<rect x="1652.45" y="1076.83" width="79.87" height="55.39" fill="#006000" />
<rect x="1256.10" y="1131.62" width="79.87" height="55.39" fill="#005800" />
<rect x="1335.37" y="1131.62" width="79.87" height="55.39" fill="#008c00" />
<rect x="1414.64" y="1131.62" width="79.87" height="55.39" fill="#006400" />
<rect x="1493.91" y="1131.62" width="79.87" height="55.39" fill="#f80000" />
<rect x="1573.18" y="1131.62" width="79.87" height="55.39" fill="#a00000" />
<rect x="1652.45" y="1131.62" width="79.87" height="55.39" fill="#001c00" />
<path d="M1335.7 145.7V1186.7M1414.9 145.7V1186.7M1494.2 145.7V1186.7M1573.5 145.7V1186.7M1652.8 145.7V1186.7M1256.4 200.5H1732.0M1256.4 255.3H1732.0M1256.4 310.1H1732.0M1256.4 364.9H1732.0M1256.4 419.6H1732.0M1256.4 474.4H1732.0M1256.4 529.2H1732.0M1256.4 584.0H1732.0M1256.4 638.8H1732.0M1256.4 693.6H1732.0M1256.4 748.4H1732.0M1256.4 803.2H1732.0M1256.4 858.0H1732.0M1256.4 912.8H1732.0M1256.4 967.5H1732.0M1256.4 1022.3H1732.0M1256.4 1077.1H1732.0M1256.4 1131.9H1732.0" stroke="#ffffff" stroke-opacity="0.40" stroke-width="2" fill="none"/>
<text x="1745.5" y="186.0" font-size="42.5" font-style="italic" fill="#111">Nqo-1</text>
<text x="1745.5" y="240.8" font-size="42.5" font-style="italic" fill="#111">Ho-1</text>
<text x="1745.5" y="295.6" font-size="42.5" font-style="italic" fill="#111">Gpx1</text>
<text x="1745.5" y="350.4" font-size="42.5" font-style="italic" fill="#111">Txnrd1</text>
<text x="1745.5" y="405.2" font-size="42.5" font-style="italic" fill="#111">Prxl2a</text>
<text x="1745.5" y="459.9" font-size="42.5" font-style="italic" fill="#111">Prdx5</text>
<text x="1745.5" y="514.7" font-size="42.5" font-style="italic" fill="#111">Pxdn</text>
<text x="1745.5" y="569.5" font-size="42.5" font-style="italic" fill="#111">Selenow</text>
<text x="1745.5" y="624.3" font-size="42.5" font-style="italic" fill="#111">Prdx1</text>
<text x="1745.5" y="679.1" font-size="42.5" font-style="italic" fill="#111">Mgst2</text>
<text x="1745.5" y="733.9" font-size="42.5" font-style="italic" fill="#111">Selenos</text>
<text x="1745.5" y="788.7" font-size="42.5" font-style="italic" fill="#111">Txn</text>
<text x="1745.5" y="843.5" font-size="42.5" font-style="italic" fill="#111">Cxcr4</text>
<text x="1745.5" y="898.3" font-size="42.5" font-style="italic" fill="#111">Cd34</text>
<text x="1745.5" y="953.1" font-size="42.5" font-style="italic" fill="#111">Dag1</text>
<text x="1745.5" y="1007.8" font-size="42.5" font-style="italic" fill="#111">Mcam</text>
<text x="1745.5" y="1062.6" font-size="42.5" font-style="italic" fill="#111">Ets1</text>
<text x="1745.5" y="1117.4" font-size="42.5" font-style="italic" fill="#111">Pik3cb</text>
<text x="1745.5" y="1172.2" font-size="42.5" font-style="italic" fill="#111">Adipor2</text>
<path d="M1898 171.5H1922.5Q1926 171.5 1926 175V777Q1926 780.5 1922.5 780.5H1898" fill="none" stroke="#111" stroke-width="3.5"/>
<path d="M1898 817.5H1922.5Q1926 817.5 1926 821V1164Q1926 1167.5 1922.5 1167.5H1898" fill="none" stroke="#111" stroke-width="3.5"/>
<text transform="translate(2014.0 317.0) rotate(90)" font-size="52" fill="#111">cellular oxidant</text>
<text transform="translate(1953.0 343.0) rotate(90)" font-size="52" fill="#111">detoxification</text>
<text transform="translate(1953.0 839.0) rotate(90)" font-size="52" fill="#111">angiogenesis</text>
<defs><linearGradient id="cbar" x1="0" x2="1" y1="0" y2="0"><stop offset="0" stop-color="#00ff00"/><stop offset="0.5" stop-color="#000"/><stop offset="1" stop-color="#ff0000"/></linearGradient></defs>
<rect x="1300.00" y="1199.00" width="399.50" height="22.50" fill="url(#cbar)" />
<text x="1260.0" y="1260.8" font-size="44" fill="#111">-1.5</text>
<text x="1349.0" y="1260.8" font-size="44" fill="#111">-1</text>
<text x="1401.6" y="1260.8" font-size="44" fill="#111">-0.5</text>
<text x="1496.0" y="1260.8" font-size="44" fill="#111">0</text>
<text x="1543.2" y="1260.8" font-size="44" fill="#111">0.5</text>
<text x="1624.0" y="1260.8" font-size="44" fill="#111">1</text>
<text x="1666.5" y="1260.8" font-size="44" fill="#111">1.5</text>
</g>
<g id="panelF">
<text transform="translate(1210.3 1475.3) scale(0.98 1)" font-size="99.5">F</text>
<text x="1481.0" y="1351.7" font-size="52.5">Man</text>
<text x="1753.5" y="1351.7" font-size="52.5">HG</text>
<line x1="1430.00" y1="1386.50" x2="1645.50" y2="1386.50" stroke="#111" stroke-width="3.5" />
<line x1="1691.50" y1="1386.50" x2="1906.00" y2="1386.50" stroke="#111" stroke-width="3.5" />
<text x="1413.0" y="1452.9" font-size="51">Vehi</text>
<text x="1556.5" y="1452.9" font-size="52.5">Lira</text>
<text x="1679.5" y="1452.9" font-size="51">Vehi</text>
<text x="1822.0" y="1452.9" font-size="52.5">Lira</text>
<text x="1239.0" y="1748.6" font-size="54">4-HNE</text>
<text x="1237.0" y="2157.0" font-size="53">β-Actin</text>
<defs><clipPath id="blotclip"><rect x="1424" y="1484" width="487" height="600.5"/></clipPath><clipPath id="actclip"><rect x="1421" y="2103" width="488" height="79.5"/></clipPath><filter id="bl5" x="-20%" y="-20%" width="140%" height="140%"><feGaussianBlur stdDeviation="5"/></filter><filter id="bl3" x="-20%" y="-20%" width="140%" height="140%"><feGaussianBlur stdDeviation="3.2"/></filter><filter id="bl8" x="-20%" y="-20%" width="140%" height="140%"><feGaussianBlur stdDeviation="8"/></filter><linearGradient id="blotbg" x1="0" x2="0" y1="0" y2="1"><stop offset="0" stop-color="#b9b9b9"/><stop offset="0.35" stop-color="#ababab"/><stop offset="0.7" stop-color="#9c9c9c"/><stop offset="1" stop-color="#989898"/></linearGradient><linearGradient id="gapgr" x1="0" x2="0" y1="0" y2="1"><stop offset="0" stop-color="#c4c4c4" stop-opacity="0.5"/><stop offset="0.5" stop-color="#c0c0c0" stop-opacity="0.4"/><stop offset="1" stop-color="#b0b0b0" stop-opacity="0.15"/></linearGradient><linearGradient id="lanegr" x1="0" x2="0" y1="0" y2="1"><stop offset="0" stop-color="#000" stop-opacity="0.02"/><stop offset="0.10" stop-color="#000" stop-opacity="0.07"/><stop offset="0.20" stop-color="#000" stop-opacity="0.15"/><stop offset="0.40" stop-color="#000" stop-opacity="0.22"/><stop offset="0.52" stop-color="#000" stop-opacity="0.34"/><stop offset="0.75" stop-color="#000" stop-opacity="0.42"/><stop offset="0.90" stop-color="#000" stop-opacity="0.52"/><stop offset="1" stop-color="#000" stop-opacity="0.62"/></linearGradient><linearGradient id="actbg" x1="0" x2="0" y1="0" y2="1"><stop offset="0" stop-color="#bdbdbd"/><stop offset="0.45" stop-color="#b0b0b0"/><stop offset="1" stop-color="#e6e6e6"/></linearGradient></defs>
<g clip-path="url(#blotclip)">
<rect x="1423.00" y="1483.00" width="489.00" height="602.50" fill="url(#blotbg)" />
<g filter="url(#bl8)">
<rect x="1415.00" y="1480.00" width="22.00" height="610.00" fill="#d0d0d0" opacity="0.7"/>
<rect x="1898.00" y="1480.00" width="22.00" height="610.00" fill="#d8d8d8" opacity="0.8"/>
</g>
<g filter="url(#bl8)">
<rect x="1448.00" y="1500.00" width="90.00" height="585.00" fill="url(#lanegr)" opacity="1.00"/>
<rect x="1565.00" y="1500.00" width="90.00" height="585.00" fill="url(#lanegr)" opacity="0.92"/>
<rect x="1684.00" y="1500.00" width="90.00" height="585.00" fill="url(#lanegr)" opacity="1.00"/>
<rect x="1800.00" y="1500.00" width="90.00" height="585.00" fill="url(#lanegr)" opacity="0.95"/>
</g>
<g filter="url(#bl8)">
<rect x="1449.00" y="1538.00" width="88.00" height="44.00" fill="#000" opacity="0.07"/>
<rect x="1566.00" y="1538.00" width="88.00" height="44.00" fill="#000" opacity="0.02"/>
<rect x="1685.00" y="1538.00" width="88.00" height="44.00" fill="#000" opacity="0.06"/>
<rect x="1801.00" y="1538.00" width="88.00" height="44.00" fill="#000" opacity="0.03"/>
<rect x="1449.00" y="1612.00" width="88.00" height="26.00" fill="#000" opacity="0.17"/>
<rect x="1566.00" y="1612.00" width="88.00" height="26.00" fill="#000" opacity="0.07"/>
<rect x="1685.00" y="1612.00" width="88.00" height="26.00" fill="#000" opacity="0.16"/>
<rect x="1801.00" y="1612.00" width="88.00" height="26.00" fill="#000" opacity="0.09"/>
<rect x="1449.00" y="1650.00" width="88.00" height="20.00" fill="#000" opacity="0.15"/>
<rect x="1566.00" y="1650.00" width="88.00" height="20.00" fill="#000" opacity="0.08"/>
<rect x="1685.00" y="1650.00" width="88.00" height="20.00" fill="#000" opacity="0.15"/>
<rect x="1801.00" y="1650.00" width="88.00" height="20.00" fill="#000" opacity="0.10"/>
<rect x="1449.00" y="1699.00" width="88.00" height="18.00" fill="#000" opacity="0.12"/>
<rect x="1566.00" y="1699.00" width="88.00" height="18.00" fill="#000" opacity="0.08"/>
<rect x="1685.00" y="1699.00" width="88.00" height="18.00" fill="#000" opacity="0.13"/>
<rect x="1801.00" y="1699.00" width="88.00" height="18.00" fill="#000" opacity="0.10"/>
<rect x="1449.00" y="1750.00" width="88.00" height="16.00" fill="#000" opacity="0.08"/>
<rect x="1566.00" y="1750.00" width="88.00" height="16.00" fill="#000" opacity="0.06"/>
<rect x="1685.00" y="1750.00" width="88.00" height="16.00" fill="#000" opacity="0.12"/>
<rect x="1801.00" y="1750.00" width="88.00" height="16.00" fill="#000" opacity="0.08"/>
<rect x="1449.00" y="1783.00" width="88.00" height="16.00" fill="#000" opacity="0.26"/>
<rect x="1566.00" y="1783.00" width="88.00" height="16.00" fill="#000" opacity="0.10"/>
<rect x="1685.00" y="1783.00" width="88.00" height="16.00" fill="#000" opacity="0.30"/>
<rect x="1801.00" y="1783.00" width="88.00" height="16.00" fill="#000" opacity="0.14"/>
<rect x="1449.00" y="1816.00" width="88.00" height="28.00" fill="#000" opacity="0.36"/>
<rect x="1566.00" y="1816.00" width="88.00" height="28.00" fill="#000" opacity="0.30"/>
<rect x="1685.00" y="1816.00" width="88.00" height="28.00" fill="#000" opacity="0.62"/>
<rect x="1801.00" y="1816.00" width="88.00" height="28.00" fill="#000" opacity="0.30"/>
<rect x="1449.00" y="1873.00" width="88.00" height="18.00" fill="#000" opacity="0.06"/>
<rect x="1566.00" y="1873.00" width="88.00" height="18.00" fill="#000" opacity="0.18"/>
<rect x="1685.00" y="1873.00" width="88.00" height="18.00" fill="#000" opacity="0.24"/>
<rect x="1801.00" y="1873.00" width="88.00" height="18.00" fill="#000" opacity="0.16"/>
<rect x="1449.00" y="1987.00" width="88.00" height="56.00" fill="#000" opacity="0.04"/>
<rect x="1566.00" y="1987.00" width="88.00" height="56.00" fill="#000" opacity="0.10"/>
<rect x="1685.00" y="1987.00" width="88.00" height="56.00" fill="#000" opacity="0.12"/>
<rect x="1801.00" y="1987.00" width="88.00" height="56.00" fill="#000" opacity="0.12"/>
<rect x="1449.00" y="2042.00" width="88.00" height="20.00" fill="#000" opacity="0.10"/>
<rect x="1566.00" y="2042.00" width="88.00" height="20.00" fill="#000" opacity="0.25"/>
<rect x="1685.00" y="2042.00" width="88.00" height="20.00" fill="#000" opacity="0.20"/>
<rect x="1801.00" y="2042.00" width="88.00" height="20.00" fill="#000" opacity="0.25"/>
</g>
<g filter="url(#bl5)">
<rect x="1450.00" y="1845.50" width="86.00" height="17.00" fill="#000" opacity="0.88"/>
<rect x="1567.00" y="1845.50" width="86.00" height="17.00" fill="#000" opacity="0.72"/>
<rect x="1686.00" y="1845.50" width="86.00" height="17.00" fill="#000" opacity="1.00"/>
<rect x="1802.00" y="1845.50" width="86.00" height="17.00" fill="#000" opacity="0.66"/>
<rect x="1450.00" y="1842.00" width="86.00" height="24.00" fill="#000" opacity="0.00"/>
<rect x="1567.00" y="1842.00" width="86.00" height="24.00" fill="#000" opacity="0.00"/>
<rect x="1686.00" y="1842.00" width="86.00" height="24.00" fill="#000" opacity="0.80"/>
<rect x="1802.00" y="1842.00" width="86.00" height="24.00" fill="#000" opacity="0.00"/>
<rect x="1450.00" y="1922.50" width="86.00" height="15.00" fill="#000" opacity="0.45"/>
<rect x="1567.00" y="1922.50" width="86.00" height="15.00" fill="#000" opacity="0.70"/>
<rect x="1686.00" y="1922.50" width="86.00" height="15.00" fill="#000" opacity="0.92"/>
<rect x="1802.00" y="1922.50" width="86.00" height="15.00" fill="#000" opacity="0.55"/>
<rect x="1450.00" y="1942.50" width="86.00" height="15.00" fill="#000" opacity="0.48"/>
<rect x="1567.00" y="1942.50" width="86.00" height="15.00" fill="#000" opacity="0.70"/>
<rect x="1686.00" y="1942.50" width="86.00" height="15.00" fill="#000" opacity="0.88"/>
<rect x="1802.00" y="1942.50" width="86.00" height="15.00" fill="#000" opacity="0.55"/>
</g>
<g filter="url(#bl3)">
<path d="M1424 2071 L1460 2070 L1480 2064 L1505 2060 L1535 2061 L1545 2070 L1558 2066 L1572 2054 L1590 2050 L1620 2054 L1650 2058 L1665 2066 L1685 2060 L1710 2056 L1765 2057 L1782 2063 L1795 2056 L1820 2053 L1860 2055 L1890 2060 L1905 2066 L1912 2068 L1912 2076 L1424 2077 Z" fill="#080808" opacity="0.95"/>
<rect x="1424.00" y="2078.50" width="488.00" height="8.00" fill="#c8c8c8" opacity="0.6"/>
</g>
<g filter="url(#bl5)">
<rect x="1545.50" y="1492.00" width="12.00" height="570.00" fill="url(#gapgr)" />
<rect x="1663.50" y="1492.00" width="12.00" height="570.00" fill="url(#gapgr)" />
<rect x="1781.00" y="1492.00" width="12.00" height="570.00" fill="url(#gapgr)" />
</g>
</g>
<rect x="1425" y="1485" width="485" height="598.5" fill="none" stroke="#0a0a0a" stroke-width="4"/>
<g clip-path="url(#actclip)">
<rect x="1420.00" y="2102.00" width="490.00" height="81.50" fill="url(#actbg)" />
<g filter="url(#bl8)">
<rect x="1440.00" y="2118.00" width="103.00" height="36.00" fill="#000" opacity="0.5"/>
<rect x="1562.00" y="2118.00" width="95.00" height="36.00" fill="#000" opacity="0.42"/>
<rect x="1680.00" y="2118.00" width="86.00" height="36.00" fill="#000" opacity="0.38"/>
<rect x="1790.00" y="2118.00" width="99.00" height="36.00" fill="#000" opacity="0.42"/>
<rect x="1412.00" y="2100.00" width="16.00" height="90.00" fill="#f0f0f0" opacity="0.9"/>
<rect x="1902.00" y="2100.00" width="16.00" height="90.00" fill="#f0f0f0" opacity="0.9"/>
</g>
<g filter="url(#bl3)">
<ellipse cx="1492.0" cy="2134" rx="49.0" ry="11.5" fill="#000"/>
<rect x="1453" y="2124.8" width="78" height="18.4" rx="9.2" fill="#000"/>
<ellipse cx="1610.0" cy="2135.5" rx="45.0" ry="8.5" fill="#000"/>
<rect x="1575" y="2128.7" width="70" height="13.6" rx="6.8" fill="#000"/>
<ellipse cx="1724.0" cy="2135.5" rx="41.0" ry="8" fill="#000"/>
<rect x="1693" y="2129.1" width="62" height="12.8" rx="6.4" fill="#000"/>
<ellipse cx="1840.5" cy="2136.5" rx="46.5" ry="8.5" fill="#000"/>
<rect x="1804" y="2129.7" width="73" height="13.6" rx="6.8" fill="#000"/>
</g>
</g>
<rect x="1422" y="2104" width="486" height="77.5" fill="none" stroke="#0a0a0a" stroke-width="4"/>
</g>
<g id="panelD">
<text transform="translate(82.6 2300.8) scale(0.955 1)" font-size="97.5">D</text>
<text x="338.5" y="2289.3" font-size="70">Man</text>
<text x="711.5" y="2289.3" font-size="70">HG</text>
<text transform="translate(185.3 2852.5) rotate(-90)" font-size="60" textLength="510" lengthAdjust="spacing">Liraglutide Vehicle</text>
<rect x="228.7" y="2311.5" width="345.3" height="257.8000000000002" fill="#000" stroke="#8a8a8a" stroke-width="1.2"/>
<rect x="587" y="2311.5" width="345.29999999999995" height="257.8000000000002" fill="#000" stroke="#8a8a8a" stroke-width="1.2"/>
<rect x="228.7" y="2578.3" width="345.3" height="261.2999999999997" fill="#000" stroke="#8a8a8a" stroke-width="1.2"/>
<rect x="587" y="2578.3" width="345.29999999999995" height="261.2999999999997" fill="#000" stroke="#8a8a8a" stroke-width="1.2"/>
<text x="252.5" y="2379.8" font-size="59" fill="#00a859" textLength="97.0" lengthAdjust="spacingAndGlyphs">DCF</text>
<rect x="862.00" y="2794.60" width="38.00" height="7.20" fill="#fff" />
<defs><filter id="dblur" x="-5%" y="-5%" width="110%" height="110%"><feGaussianBlur stdDeviation="0.9"/></filter></defs>
<g filter="url(#dblur)">
<rect x="654.0" y="2323.3" width="4.9" height="4.9" fill="#18d840" opacity="0.90"/><rect x="697.3" y="2350.3" width="4.9" height="4.9" fill="#18d840" opacity="1.00"/><rect x="597.2" y="2375.3" width="4.0" height="4.0" fill="#18d840" opacity="0.60"/><rect x="688.6" y="2372.0" width="4.4" height="4.4" fill="#18d840" opacity="0.55"/><rect x="767.6" y="2377.1" width="3.5" height="3.5" fill="#18d840" opacity="0.70"/><rect x="735.6" y="2398.4" width="4.9" height="4.9" fill="#18d840" opacity="0.45"/><rect x="739.2" y="2416.4" width="4.0" height="4.0" fill="#18d840" opacity="0.80"/><rect x="858.9" y="2428.2" width="4.9" height="4.9" fill="#18d840" opacity="0.90"/><rect x="854.9" y="2436.8" width="4.9" height="4.9" fill="#18d840" opacity="0.90"/><rect x="867.6" y="2451.0" width="5.9" height="5.9" fill="#18d840" opacity="1.00"/><rect x="659.8" y="2452.3" width="4.4" height="4.4" fill="#18d840" opacity="0.70"/><rect x="599.7" y="2449.0" width="4.9" height="4.9" fill="#18d840" opacity="0.45"/><rect x="678.3" y="2485.6" width="5.4" height="5.4" fill="#18d840" opacity="0.95"/><rect x="803.9" y="2467.7" width="4.4" height="4.4" fill="#18d840" opacity="0.60"/><rect x="876.3" y="2474.1" width="4.0" height="4.0" fill="#18d840" opacity="0.80"/><rect x="610.7" y="2481.5" width="4.4" height="4.4" fill="#18d840" opacity="0.55"/><rect x="760.4" y="2503.0" width="4.4" height="4.4" fill="#18d840" opacity="0.55"/><rect x="764.3" y="2522.5" width="4.0" height="4.0" fill="#18d840" opacity="0.70"/><rect x="625.0" y="2526.4" width="3.5" height="3.5" fill="#18d840" opacity="0.60"/><rect x="854.8" y="2480.2" width="4.0" height="4.0" fill="#18d840" opacity="0.60"/><rect x="890.1" y="2494.9" width="4.0" height="4.0" fill="#18d840" opacity="0.45"/><rect x="803.3" y="2486.1" width="4.4" height="4.4" fill="#18d840" opacity="0.50"/><rect x="683.0" y="2358.4" width="4.0" height="4.0" fill="#18d840" opacity="0.50"/><rect x="613.8" y="2352.7" width="4.4" height="4.4" fill="#18d840" opacity="0.40"/><rect x="803.5" y="2347.6" width="5.4" height="5.4" fill="#18d840" opacity="0.30"/><rect x="759.5" y="2341.9" width="4.4" height="4.4" fill="#18d840" opacity="0.40"/><rect x="790.6" y="2327.1" width="3.5" height="3.5" fill="#18d840" opacity="0.60"/><rect x="911.8" y="2321.6" width="3.5" height="3.5" fill="#18d840" opacity="0.60"/><rect x="908.1" y="2329.5" width="3.5" height="3.5" fill="#18d840" opacity="0.40"/><rect x="839.7" y="2359.3" width="3.5" height="3.5" fill="#18d840" opacity="0.45"/><rect x="847.6" y="2358.0" width="3.0" height="3.0" fill="#18d840" opacity="0.40"/><rect x="900.8" y="2385.7" width="4.0" height="4.0" fill="#18d840" opacity="0.40"/><rect x="673.8" y="2402.0" width="4.0" height="4.0" fill="#18d840" opacity="0.40"/><rect x="620.2" y="2405.1" width="4.0" height="4.0" fill="#18d840" opacity="0.45"/><rect x="629.4" y="2399.8" width="4.0" height="4.0" fill="#18d840" opacity="0.30"/><rect x="719.8" y="2416.4" width="4.0" height="4.0" fill="#18d840" opacity="0.40"/><rect x="747.7" y="2409.9" width="3.5" height="3.5" fill="#18d840" opacity="0.50"/><rect x="773.5" y="2421.3" width="4.0" height="4.0" fill="#18d840" opacity="0.40"/><rect x="779.9" y="2418.5" width="3.5" height="3.5" fill="#18d840" opacity="0.40"/><rect x="768.9" y="2435.7" width="4.0" height="4.0" fill="#18d840" opacity="0.40"/><rect x="787.6" y="2436.9" width="3.5" height="3.5" fill="#18d840" opacity="0.40"/><rect x="857.4" y="2406.7" width="4.9" height="4.9" fill="#18d840" opacity="0.30"/><rect x="900.6" y="2409.4" width="4.4" height="4.4" fill="#18d840" opacity="0.25"/><rect x="658.5" y="2461.8" width="4.0" height="4.0" fill="#18d840" opacity="0.50"/><rect x="712.2" y="2465.5" width="4.0" height="4.0" fill="#18d840" opacity="0.40"/><rect x="883.9" y="2461.2" width="4.0" height="4.0" fill="#18d840" opacity="0.50"/><rect x="873.4" y="2468.2" width="3.5" height="3.5" fill="#18d840" opacity="0.60"/><rect x="867.3" y="2477.4" width="3.5" height="3.5" fill="#18d840" opacity="0.60"/><rect x="841.5" y="2476.1" width="3.0" height="3.0" fill="#18d840" opacity="0.60"/><rect x="815.2" y="2483.5" width="3.5" height="3.5" fill="#18d840" opacity="0.40"/><rect x="822.8" y="2503.4" width="3.5" height="3.5" fill="#18d840" opacity="0.50"/><rect x="825.3" y="2512.6" width="3.5" height="3.5" fill="#18d840" opacity="0.45"/><rect x="816.7" y="2522.8" width="3.5" height="3.5" fill="#18d840" opacity="0.40"/><rect x="832.4" y="2527.7" width="4.0" height="4.0" fill="#18d840" opacity="0.40"/><rect x="795.0" y="2497.1" width="4.0" height="4.0" fill="#18d840" opacity="0.30"/><rect x="695.1" y="2510.6" width="4.4" height="4.4" fill="#18d840" opacity="0.30"/><rect x="624.5" y="2499.9" width="4.4" height="4.4" fill="#18d840" opacity="0.30"/><rect x="727.8" y="2508.7" width="3.5" height="3.5" fill="#18d840" opacity="0.30"/><rect x="828.6" y="2544.5" width="3.0" height="3.0" fill="#18d840" opacity="0.50"/><rect x="844.7" y="2552.3" width="4.0" height="4.0" fill="#18d840" opacity="0.40"/><rect x="761.3" y="2547.7" width="4.0" height="4.0" fill="#18d840" opacity="0.35"/><rect x="735.6" y="2562.5" width="4.9" height="4.9" fill="#18d840" opacity="0.30"/><rect x="686.4" y="2555.6" width="3.5" height="3.5" fill="#18d840" opacity="0.30"/><rect x="718.6" y="2537.2" width="3.5" height="3.5" fill="#18d840" opacity="0.35"/><rect x="642.7" y="2353.3" width="4.9" height="4.9" fill="#18d840" opacity="0.30"/><rect x="755.6" y="2425.5" width="3.0" height="3.0" fill="#18d840" opacity="0.50"/><rect x="900.1" y="2426.8" width="3.5" height="3.5" fill="#18d840" opacity="0.35"/><rect x="671.9" y="2497.3" width="3.5" height="3.5" fill="#18d840" opacity="0.40"/><rect x="663.2" y="2682.1" width="4.9" height="4.9" fill="#18d840" opacity="0.85"/><rect x="701.0" y="2695.9" width="4.9" height="4.9" fill="#18d840" opacity="0.90"/><rect x="723.6" y="2695.3" width="4.4" height="4.4" fill="#18d840" opacity="0.70"/><rect x="672.1" y="2706.9" width="4.4" height="4.4" fill="#18d840" opacity="0.60"/><rect x="753.3" y="2720.7" width="4.4" height="4.4" fill="#18d840" opacity="0.85"/><rect x="704.9" y="2731.5" width="4.4" height="4.4" fill="#18d840" opacity="0.65"/><rect x="715.2" y="2750.1" width="4.0" height="4.0" fill="#18d840" opacity="0.65"/><rect x="602.7" y="2675.0" width="4.0" height="4.0" fill="#18d840" opacity="0.60"/><rect x="615.6" y="2683.5" width="4.0" height="4.0" fill="#18d840" opacity="0.55"/><rect x="685.6" y="2656.1" width="4.9" height="4.9" fill="#18d840" opacity="0.40"/><rect x="837.9" y="2696.4" width="4.0" height="4.0" fill="#18d840" opacity="0.50"/><rect x="846.0" y="2706.9" width="4.4" height="4.4" fill="#18d840" opacity="0.50"/><rect x="808.8" y="2736.9" width="4.0" height="4.0" fill="#18d840" opacity="0.45"/><rect x="745.7" y="2759.1" width="4.4" height="4.4" fill="#18d840" opacity="0.35"/><rect x="717.0" y="2803.1" width="3.5" height="3.5" fill="#18d840" opacity="0.50"/><rect x="727.8" y="2811.7" width="3.5" height="3.5" fill="#18d840" opacity="0.50"/><rect x="775.7" y="2812.4" width="4.0" height="4.0" fill="#18d840" opacity="0.45"/><rect x="677.8" y="2627.4" width="4.0" height="4.0" fill="#18d840" opacity="0.50"/><rect x="734.6" y="2638.2" width="4.0" height="4.0" fill="#18d840" opacity="0.50"/><rect x="635.5" y="2629.0" width="4.0" height="4.0" fill="#18d840" opacity="0.30"/><rect x="656.0" y="2629.0" width="4.0" height="4.0" fill="#18d840" opacity="0.30"/><rect x="592.6" y="2647.4" width="4.0" height="4.0" fill="#18d840" opacity="0.40"/><rect x="667.9" y="2655.9" width="3.5" height="3.5" fill="#18d840" opacity="0.50"/><rect x="691.0" y="2666.6" width="3.5" height="3.5" fill="#18d840" opacity="0.50"/><rect x="634.2" y="2669.1" width="3.5" height="3.5" fill="#18d840" opacity="0.45"/><rect x="750.8" y="2709.9" width="3.5" height="3.5" fill="#18d840" opacity="0.40"/><rect x="732.1" y="2820.0" width="4.0" height="4.0" fill="#18d840" opacity="0.30"/><rect x="756.9" y="2758.9" width="3.5" height="3.5" fill="#18d840" opacity="0.30"/><rect x="628.1" y="2692.7" width="3.5" height="3.5" fill="#18d840" opacity="0.30"/><rect x="766.1" y="2619.1" width="3.5" height="3.5" fill="#18d840" opacity="0.25"/><rect x="785.4" y="2629.2" width="3.5" height="3.5" fill="#18d840" opacity="0.20"/><rect x="867.6" y="2666.2" width="3.0" height="3.0" fill="#18d840" opacity="0.30"/><rect x="435.8" y="2403.7" width="4.2" height="4.2" fill="#16b83a" opacity="0.38"/><rect x="472.4" y="2404.3" width="4.2" height="4.2" fill="#16b83a" opacity="0.26"/><rect x="334.2" y="2438.3" width="4.2" height="4.2" fill="#16b83a" opacity="0.30"/><rect x="379.5" y="2388.6" width="3.6" height="3.6" fill="#16b83a" opacity="0.30"/><rect x="267.7" y="2399.3" width="4.2" height="4.2" fill="#16b83a" opacity="0.22"/><rect x="311.2" y="2427.2" width="3.6" height="3.6" fill="#16b83a" opacity="0.22"/><rect x="484.3" y="2466.2" width="3.6" height="3.6" fill="#16b83a" opacity="0.22"/><rect x="464.4" y="2501.8" width="3.6" height="3.6" fill="#16b83a" opacity="0.22"/><rect x="335.9" y="2510.9" width="4.2" height="4.2" fill="#16b83a" opacity="0.19"/><rect x="397.8" y="2454.5" width="3.6" height="3.6" fill="#16b83a" opacity="0.19"/><rect x="236.0" y="2454.3" width="4.2" height="4.2" fill="#16b83a" opacity="0.15"/><rect x="281.2" y="2432.9" width="3.6" height="3.6" fill="#16b83a" opacity="0.19"/><rect x="357.8" y="2396.9" width="3.6" height="3.6" fill="#16b83a" opacity="0.19"/><rect x="547.6" y="2394.6" width="3.6" height="3.6" fill="#16b83a" opacity="0.19"/><rect x="261.3" y="2492.8" width="3.6" height="3.6" fill="#16b83a" opacity="0.15"/><rect x="461.0" y="2559.4" width="3.6" height="3.6" fill="#16b83a" opacity="0.15"/><rect x="357.8" y="2557.8" width="3.6" height="3.6" fill="#16b83a" opacity="0.15"/><rect x="330.9" y="2787.2" width="4.2" height="4.2" fill="#16b83a" opacity="0.60"/><rect x="357.6" y="2790.6" width="7.4" height="7.4" fill="#16b83a" opacity="0.22"/><rect x="337.6" y="2802.2" width="4.2" height="4.2" fill="#16b83a" opacity="0.34"/><rect x="400.8" y="2787.9" width="4.2" height="4.2" fill="#16b83a" opacity="0.34"/><rect x="428.4" y="2661.6" width="3.6" height="3.6" fill="#16b83a" opacity="0.38"/><rect x="262.7" y="2660.7" width="4.2" height="4.2" fill="#16b83a" opacity="0.30"/><rect x="277.6" y="2729.9" width="4.2" height="4.2" fill="#16b83a" opacity="0.34"/><rect x="296.2" y="2694.3" width="3.6" height="3.6" fill="#16b83a" opacity="0.30"/><rect x="562.3" y="2633.4" width="4.2" height="4.2" fill="#16b83a" opacity="0.30"/><rect x="569.0" y="2695.7" width="4.2" height="4.2" fill="#16b83a" opacity="0.26"/><rect x="477.7" y="2800.1" width="3.6" height="3.6" fill="#16b83a" opacity="0.26"/><rect x="502.6" y="2794.1" width="3.6" height="3.6" fill="#16b83a" opacity="0.22"/><rect x="511.0" y="2744.2" width="3.6" height="3.6" fill="#16b83a" opacity="0.22"/><rect x="529.3" y="2752.5" width="3.6" height="3.6" fill="#16b83a" opacity="0.22"/><rect x="332.8" y="2657.0" width="3.6" height="3.6" fill="#16b83a" opacity="0.26"/><rect x="377.5" y="2660.7" width="4.2" height="4.2" fill="#16b83a" opacity="0.22"/><rect x="384.4" y="2678.3" width="3.6" height="3.6" fill="#16b83a" opacity="0.22"/><rect x="357.8" y="2697.6" width="3.6" height="3.6" fill="#16b83a" opacity="0.22"/><rect x="512.6" y="2697.6" width="3.6" height="3.6" fill="#16b83a" opacity="0.22"/><rect x="264.6" y="2712.6" width="3.6" height="3.6" fill="#16b83a" opacity="0.22"/><rect x="342.8" y="2715.9" width="3.6" height="3.6" fill="#16b83a" opacity="0.22"/><rect x="252.9" y="2620.3" width="3.6" height="3.6" fill="#16b83a" opacity="0.22"/><rect x="474.3" y="2629.3" width="3.6" height="3.6" fill="#16b83a" opacity="0.22"/><rect x="482.7" y="2639.3" width="3.6" height="3.6" fill="#16b83a" opacity="0.22"/><rect x="592.5" y="2647.6" width="3.6" height="3.6" fill="#16b83a" opacity="0.22"/><rect x="595.9" y="2699.2" width="3.6" height="3.6" fill="#16b83a" opacity="0.22"/><rect x="274.6" y="2809.1" width="3.6" height="3.6" fill="#16b83a" opacity="0.22"/><rect x="281.2" y="2782.5" width="3.6" height="3.6" fill="#16b83a" opacity="0.22"/><rect x="377.8" y="2780.8" width="3.6" height="3.6" fill="#16b83a" opacity="0.22"/><rect x="464.4" y="2784.1" width="3.6" height="3.6" fill="#16b83a" opacity="0.19"/><rect x="238.0" y="2741.5" width="3.6" height="3.6" fill="#16b83a" opacity="0.19"/><rect x="451.0" y="2641.0" width="3.6" height="3.6" fill="#16b83a" opacity="0.19"/><rect x="383.5" y="2453.6" width="3.5" height="3.5" fill="#12a030" opacity="0.14"/><rect x="402.8" y="2461.0" width="2.5" height="2.5" fill="#12a030" opacity="0.14"/><rect x="444.0" y="2512.4" width="2.3" height="2.3" fill="#12a030" opacity="0.11"/><rect x="261.7" y="2516.2" width="3.2" height="3.2" fill="#12a030" opacity="0.08"/><rect x="562.4" y="2554.9" width="3.1" height="3.1" fill="#12a030" opacity="0.16"/><rect x="409.7" y="2329.1" width="2.5" height="2.5" fill="#12a030" opacity="0.10"/><rect x="241.4" y="2430.0" width="2.8" height="2.8" fill="#12a030" opacity="0.19"/><rect x="406.4" y="2474.0" width="2.9" height="2.9" fill="#12a030" opacity="0.16"/><rect x="385.2" y="2383.2" width="3.6" height="3.6" fill="#12a030" opacity="0.21"/><rect x="514.8" y="2491.0" width="2.6" height="2.6" fill="#12a030" opacity="0.10"/><rect x="489.5" y="2413.8" width="3.4" height="3.4" fill="#12a030" opacity="0.12"/><rect x="554.7" y="2526.1" width="2.2" height="2.2" fill="#12a030" opacity="0.10"/><rect x="537.9" y="2431.1" width="3.6" height="3.6" fill="#12a030" opacity="0.13"/><rect x="255.7" y="2471.1" width="3.3" height="3.3" fill="#12a030" opacity="0.11"/><rect x="260.3" y="2396.8" width="3.5" height="3.5" fill="#12a030" opacity="0.18"/><rect x="500.0" y="2358.4" width="3.0" height="3.0" fill="#12a030" opacity="0.13"/><rect x="295.8" y="2497.1" width="2.4" height="2.4" fill="#12a030" opacity="0.16"/><rect x="270.7" y="2419.4" width="2.5" height="2.5" fill="#12a030" opacity="0.11"/><rect x="558.9" y="2514.9" width="2.6" height="2.6" fill="#12a030" opacity="0.19"/><rect x="302.1" y="2412.3" width="3.4" height="3.4" fill="#12a030" opacity="0.16"/><rect x="265.3" y="2561.4" width="2.5" height="2.5" fill="#12a030" opacity="0.11"/><rect x="492.0" y="2396.4" width="2.6" height="2.6" fill="#12a030" opacity="0.08"/><rect x="261.8" y="2459.8" width="2.5" height="2.5" fill="#12a030" opacity="0.15"/><rect x="356.3" y="2426.9" width="3.5" height="3.5" fill="#12a030" opacity="0.14"/><rect x="425.3" y="2530.7" width="2.5" height="2.5" fill="#12a030" opacity="0.09"/><rect x="537.8" y="2518.5" width="2.5" height="2.5" fill="#12a030" opacity="0.10"/><rect x="480.9" y="2549.2" width="2.5" height="2.5" fill="#12a030" opacity="0.20"/><rect x="528.9" y="2464.9" width="2.8" height="2.8" fill="#12a030" opacity="0.08"/><rect x="244.5" y="2554.7" width="2.5" height="2.5" fill="#12a030" opacity="0.17"/><rect x="317.9" y="2519.7" width="3.0" height="3.0" fill="#12a030" opacity="0.11"/><rect x="290.7" y="2494.3" width="2.3" height="2.3" fill="#12a030" opacity="0.10"/><rect x="419.8" y="2526.9" width="3.1" height="3.1" fill="#12a030" opacity="0.11"/><rect x="541.0" y="2365.3" width="2.2" height="2.2" fill="#12a030" opacity="0.11"/><rect x="381.8" y="2329.4" width="2.4" height="2.4" fill="#12a030" opacity="0.12"/><rect x="424.3" y="2347.0" width="2.7" height="2.7" fill="#12a030" opacity="0.19"/><rect x="561.8" y="2478.0" width="3.2" height="3.2" fill="#12a030" opacity="0.15"/><rect x="237.1" y="2541.3" width="3.2" height="3.2" fill="#12a030" opacity="0.20"/><rect x="238.4" y="2473.0" width="2.9" height="2.9" fill="#12a030" opacity="0.17"/><rect x="339.1" y="2564.0" width="2.3" height="2.3" fill="#12a030" opacity="0.15"/><rect x="479.7" y="2538.8" width="3.2" height="3.2" fill="#12a030" opacity="0.17"/><rect x="498.9" y="2542.7" width="2.7" height="2.7" fill="#12a030" opacity="0.17"/><rect x="535.2" y="2531.7" width="2.8" height="2.8" fill="#12a030" opacity="0.18"/><rect x="522.4" y="2457.0" width="3.1" height="3.1" fill="#12a030" opacity="0.12"/><rect x="428.1" y="2466.4" width="2.3" height="2.3" fill="#12a030" opacity="0.16"/><rect x="566.1" y="2533.7" width="3.2" height="3.2" fill="#12a030" opacity="0.12"/><rect x="479.2" y="2459.2" width="2.8" height="2.8" fill="#12a030" opacity="0.19"/><rect x="259.8" y="2501.8" width="2.2" height="2.2" fill="#12a030" opacity="0.15"/><rect x="393.3" y="2371.4" width="3.2" height="3.2" fill="#12a030" opacity="0.14"/><rect x="438.7" y="2544.2" width="2.6" height="2.6" fill="#12a030" opacity="0.07"/><rect x="333.0" y="2483.7" width="2.5" height="2.5" fill="#12a030" opacity="0.09"/><rect x="536.8" y="2479.0" width="2.8" height="2.8" fill="#12a030" opacity="0.19"/><rect x="341.7" y="2480.6" width="2.5" height="2.5" fill="#12a030" opacity="0.13"/><rect x="502.8" y="2542.2" width="3.4" height="3.4" fill="#12a030" opacity="0.12"/><rect x="428.2" y="2393.4" width="2.4" height="2.4" fill="#12a030" opacity="0.14"/><rect x="513.5" y="2525.9" width="3.2" height="3.2" fill="#12a030" opacity="0.20"/><rect x="383.5" y="2383.0" width="2.5" height="2.5" fill="#12a030" opacity="0.13"/><rect x="442.4" y="2437.5" width="2.6" height="2.6" fill="#12a030" opacity="0.19"/><rect x="562.8" y="2427.4" width="2.3" height="2.3" fill="#12a030" opacity="0.07"/><rect x="525.5" y="2324.3" width="3.2" height="3.2" fill="#12a030" opacity="0.15"/><rect x="335.8" y="2512.1" width="2.2" height="2.2" fill="#12a030" opacity="0.09"/><rect x="384.4" y="2320.0" width="3.4" height="3.4" fill="#12a030" opacity="0.10"/><rect x="443.4" y="2425.5" width="3.1" height="3.1" fill="#12a030" opacity="0.16"/><rect x="503.5" y="2553.3" width="3.2" height="3.2" fill="#12a030" opacity="0.10"/><rect x="391.9" y="2359.0" width="2.2" height="2.2" fill="#12a030" opacity="0.14"/><rect x="472.3" y="2358.9" width="2.6" height="2.6" fill="#12a030" opacity="0.12"/><rect x="466.4" y="2444.0" width="3.1" height="3.1" fill="#12a030" opacity="0.18"/><rect x="363.7" y="2511.6" width="3.5" height="3.5" fill="#12a030" opacity="0.08"/><rect x="546.1" y="2494.8" width="2.4" height="2.4" fill="#12a030" opacity="0.13"/><rect x="442.3" y="2541.4" width="2.7" height="2.7" fill="#12a030" opacity="0.15"/><rect x="527.5" y="2512.8" width="3.5" height="3.5" fill="#12a030" opacity="0.13"/><rect x="450.8" y="2365.1" width="3.2" height="3.2" fill="#12a030" opacity="0.18"/><rect x="447.9" y="2493.5" width="2.5" height="2.5" fill="#12a030" opacity="0.20"/><rect x="561.9" y="2558.2" width="3.0" height="3.0" fill="#12a030" opacity="0.18"/><rect x="339.1" y="2541.1" width="3.4" height="3.4" fill="#12a030" opacity="0.12"/><rect x="259.1" y="2424.2" width="3.0" height="3.0" fill="#12a030" opacity="0.18"/><rect x="395.4" y="2320.9" width="3.3" height="3.3" fill="#12a030" opacity="0.08"/><rect x="501.2" y="2357.4" width="2.7" height="2.7" fill="#12a030" opacity="0.18"/><rect x="405.2" y="2494.6" width="3.4" height="3.4" fill="#12a030" opacity="0.17"/><rect x="549.9" y="2436.8" width="3.5" height="3.5" fill="#12a030" opacity="0.08"/><rect x="306.1" y="2445.8" width="2.6" height="2.6" fill="#12a030" opacity="0.17"/><rect x="446.5" y="2444.4" width="3.4" height="3.4" fill="#12a030" opacity="0.15"/><rect x="336.1" y="2409.0" width="3.4" height="3.4" fill="#12a030" opacity="0.20"/><rect x="301.2" y="2526.2" width="3.6" height="3.6" fill="#12a030" opacity="0.14"/><rect x="424.5" y="2364.2" width="3.0" height="3.0" fill="#12a030" opacity="0.14"/><rect x="435.1" y="2320.7" width="3.6" height="3.6" fill="#12a030" opacity="0.14"/><rect x="366.3" y="2514.1" width="3.0" height="3.0" fill="#12a030" opacity="0.14"/><rect x="464.3" y="2330.5" width="3.0" height="3.0" fill="#12a030" opacity="0.13"/><rect x="554.2" y="2544.9" width="2.6" height="2.6" fill="#12a030" opacity="0.14"/><rect x="273.9" y="2422.2" width="3.3" height="3.3" fill="#12a030" opacity="0.20"/><rect x="392.2" y="2393.5" width="2.5" height="2.5" fill="#12a030" opacity="0.16"/><rect x="543.1" y="2346.2" width="3.3" height="3.3" fill="#12a030" opacity="0.07"/><rect x="463.1" y="2394.6" width="2.7" height="2.7" fill="#12a030" opacity="0.16"/><rect x="266.9" y="2496.9" width="2.4" height="2.4" fill="#12a030" opacity="0.14"/><rect x="410.2" y="2423.2" width="2.7" height="2.7" fill="#12a030" opacity="0.13"/><rect x="410.0" y="2354.2" width="2.5" height="2.5" fill="#12a030" opacity="0.16"/><rect x="446.4" y="2446.1" width="3.4" height="3.4" fill="#12a030" opacity="0.16"/><rect x="520.1" y="2372.0" width="3.2" height="3.2" fill="#12a030" opacity="0.18"/><rect x="535.9" y="2393.1" width="2.6" height="2.6" fill="#12a030" opacity="0.20"/><rect x="304.6" y="2563.2" width="3.4" height="3.4" fill="#12a030" opacity="0.09"/><rect x="312.2" y="2495.7" width="2.6" height="2.6" fill="#12a030" opacity="0.08"/><rect x="511.7" y="2419.2" width="3.3" height="3.3" fill="#12a030" opacity="0.09"/><rect x="367.4" y="2485.6" width="2.2" height="2.2" fill="#12a030" opacity="0.10"/><rect x="461.1" y="2541.4" width="3.6" height="3.6" fill="#12a030" opacity="0.09"/><rect x="401.8" y="2503.4" width="2.9" height="2.9" fill="#12a030" opacity="0.17"/><rect x="417.3" y="2442.6" width="3.0" height="3.0" fill="#12a030" opacity="0.09"/><rect x="514.4" y="2561.1" width="3.5" height="3.5" fill="#12a030" opacity="0.08"/><rect x="252.2" y="2551.8" width="2.8" height="2.8" fill="#12a030" opacity="0.18"/><rect x="341.5" y="2430.7" width="2.9" height="2.9" fill="#12a030" opacity="0.13"/><rect x="433.8" y="2317.2" width="3.2" height="3.2" fill="#12a030" opacity="0.19"/><rect x="292.2" y="2427.3" width="3.2" height="3.2" fill="#12a030" opacity="0.13"/><rect x="403.9" y="2317.6" width="3.5" height="3.5" fill="#12a030" opacity="0.18"/><rect x="468.8" y="2529.0" width="3.1" height="3.1" fill="#12a030" opacity="0.13"/><rect x="433.2" y="2439.7" width="3.6" height="3.6" fill="#12a030" opacity="0.18"/><rect x="318.2" y="2541.5" width="3.2" height="3.2" fill="#12a030" opacity="0.18"/><rect x="505.8" y="2415.1" width="3.5" height="3.5" fill="#12a030" opacity="0.19"/><rect x="465.4" y="2505.5" width="3.3" height="3.3" fill="#12a030" opacity="0.13"/><rect x="833.4" y="2331.8" width="2.7" height="2.7" fill="#12a030" opacity="0.19"/><rect x="593.0" y="2402.8" width="3.1" height="3.1" fill="#12a030" opacity="0.22"/><rect x="667.7" y="2549.9" width="3.1" height="3.1" fill="#12a030" opacity="0.17"/><rect x="812.1" y="2456.3" width="2.9" height="2.9" fill="#12a030" opacity="0.18"/><rect x="926.7" y="2474.3" width="3.2" height="3.2" fill="#12a030" opacity="0.25"/><rect x="920.1" y="2319.7" width="3.1" height="3.1" fill="#12a030" opacity="0.25"/><rect x="676.4" y="2414.7" width="2.3" height="2.3" fill="#12a030" opacity="0.14"/><rect x="716.4" y="2338.8" width="2.6" height="2.6" fill="#12a030" opacity="0.28"/><rect x="774.8" y="2440.6" width="3.6" height="3.6" fill="#12a030" opacity="0.21"/><rect x="925.0" y="2473.2" width="3.3" height="3.3" fill="#12a030" opacity="0.12"/><rect x="791.4" y="2504.0" width="2.3" height="2.3" fill="#12a030" opacity="0.29"/><rect x="643.7" y="2432.1" width="2.4" height="2.4" fill="#12a030" opacity="0.20"/><rect x="795.4" y="2328.4" width="3.5" height="3.5" fill="#12a030" opacity="0.18"/><rect x="767.3" y="2463.5" width="2.7" height="2.7" fill="#12a030" opacity="0.16"/><rect x="810.7" y="2454.3" width="2.6" height="2.6" fill="#12a030" opacity="0.24"/><rect x="689.6" y="2317.7" width="2.5" height="2.5" fill="#12a030" opacity="0.11"/><rect x="642.4" y="2502.6" width="2.7" height="2.7" fill="#12a030" opacity="0.28"/><rect x="841.6" y="2326.2" width="3.6" height="3.6" fill="#12a030" opacity="0.29"/><rect x="614.4" y="2540.3" width="2.8" height="2.8" fill="#12a030" opacity="0.20"/><rect x="917.8" y="2374.9" width="2.9" height="2.9" fill="#12a030" opacity="0.29"/><rect x="833.0" y="2430.7" width="3.6" height="3.6" fill="#12a030" opacity="0.26"/><rect x="793.1" y="2342.7" width="3.1" height="3.1" fill="#12a030" opacity="0.19"/><rect x="658.2" y="2327.0" width="2.9" height="2.9" fill="#12a030" opacity="0.12"/><rect x="739.0" y="2480.9" width="2.8" height="2.8" fill="#12a030" opacity="0.15"/><rect x="785.7" y="2418.7" width="3.3" height="3.3" fill="#12a030" opacity="0.21"/><rect x="925.9" y="2551.9" width="3.2" height="3.2" fill="#12a030" opacity="0.15"/><rect x="627.8" y="2536.8" width="3.3" height="3.3" fill="#12a030" opacity="0.22"/><rect x="710.6" y="2381.7" width="3.2" height="3.2" fill="#12a030" opacity="0.21"/><rect x="788.9" y="2472.0" width="3.3" height="3.3" fill="#12a030" opacity="0.14"/><rect x="673.2" y="2558.5" width="3.5" height="3.5" fill="#12a030" opacity="0.28"/><rect x="603.0" y="2329.4" width="2.6" height="2.6" fill="#12a030" opacity="0.19"/><rect x="799.8" y="2339.6" width="3.0" height="3.0" fill="#12a030" opacity="0.11"/><rect x="618.7" y="2482.9" width="3.0" height="3.0" fill="#12a030" opacity="0.23"/><rect x="715.6" y="2433.8" width="2.5" height="2.5" fill="#12a030" opacity="0.17"/><rect x="841.1" y="2523.8" width="2.3" height="2.3" fill="#12a030" opacity="0.12"/><rect x="862.3" y="2469.7" width="3.3" height="3.3" fill="#12a030" opacity="0.14"/><rect x="732.5" y="2378.3" width="3.3" height="3.3" fill="#12a030" opacity="0.17"/><rect x="810.2" y="2561.3" width="2.7" height="2.7" fill="#12a030" opacity="0.21"/><rect x="841.3" y="2544.1" width="2.8" height="2.8" fill="#12a030" opacity="0.17"/><rect x="622.6" y="2533.0" width="2.3" height="2.3" fill="#12a030" opacity="0.12"/><rect x="779.7" y="2435.0" width="3.2" height="3.2" fill="#12a030" opacity="0.16"/><rect x="851.3" y="2333.3" width="2.5" height="2.5" fill="#12a030" opacity="0.23"/><rect x="617.0" y="2389.8" width="3.2" height="3.2" fill="#12a030" opacity="0.24"/><rect x="685.1" y="2349.9" width="2.7" height="2.7" fill="#12a030" opacity="0.25"/><rect x="713.0" y="2343.2" width="3.2" height="3.2" fill="#12a030" opacity="0.21"/><rect x="899.1" y="2548.6" width="3.5" height="3.5" fill="#12a030" opacity="0.19"/><rect x="860.5" y="2390.3" width="2.6" height="2.6" fill="#12a030" opacity="0.18"/><rect x="905.0" y="2537.7" width="2.5" height="2.5" fill="#12a030" opacity="0.17"/><rect x="712.9" y="2404.9" width="2.8" height="2.8" fill="#12a030" opacity="0.18"/><rect x="655.1" y="2454.7" width="3.3" height="3.3" fill="#12a030" opacity="0.21"/><rect x="871.9" y="2454.9" width="2.4" height="2.4" fill="#12a030" opacity="0.25"/><rect x="887.0" y="2384.7" width="2.2" height="2.2" fill="#12a030" opacity="0.20"/><rect x="772.8" y="2455.5" width="3.6" height="3.6" fill="#12a030" opacity="0.23"/><rect x="860.8" y="2330.0" width="3.0" height="3.0" fill="#12a030" opacity="0.26"/><rect x="617.7" y="2334.3" width="3.2" height="3.2" fill="#12a030" opacity="0.28"/><rect x="618.4" y="2472.7" width="2.4" height="2.4" fill="#12a030" opacity="0.25"/><rect x="808.7" y="2375.6" width="2.5" height="2.5" fill="#12a030" opacity="0.25"/><rect x="765.5" y="2505.1" width="2.8" height="2.8" fill="#12a030" opacity="0.17"/><rect x="916.2" y="2482.0" width="2.9" height="2.9" fill="#12a030" opacity="0.21"/><rect x="832.4" y="2490.7" width="3.5" height="3.5" fill="#12a030" opacity="0.18"/><rect x="868.0" y="2480.4" width="3.4" height="3.4" fill="#12a030" opacity="0.26"/><rect x="870.5" y="2535.7" width="3.5" height="3.5" fill="#12a030" opacity="0.23"/><rect x="766.0" y="2491.2" width="3.3" height="3.3" fill="#12a030" opacity="0.18"/><rect x="731.2" y="2350.4" width="3.2" height="3.2" fill="#12a030" opacity="0.30"/><rect x="716.4" y="2356.1" width="2.5" height="2.5" fill="#12a030" opacity="0.18"/><rect x="688.4" y="2556.6" width="2.3" height="2.3" fill="#12a030" opacity="0.16"/><rect x="628.1" y="2475.7" width="3.3" height="3.3" fill="#12a030" opacity="0.14"/><rect x="610.5" y="2428.6" width="3.0" height="3.0" fill="#12a030" opacity="0.28"/><rect x="602.0" y="2341.4" width="2.5" height="2.5" fill="#12a030" opacity="0.14"/><rect x="668.9" y="2493.2" width="3.0" height="3.0" fill="#12a030" opacity="0.14"/><rect x="652.2" y="2384.5" width="2.4" height="2.4" fill="#12a030" opacity="0.25"/><rect x="694.5" y="2450.8" width="3.3" height="3.3" fill="#12a030" opacity="0.20"/><rect x="677.1" y="2535.4" width="3.5" height="3.5" fill="#12a030" opacity="0.17"/><rect x="774.2" y="2553.1" width="2.9" height="2.9" fill="#12a030" opacity="0.14"/><rect x="606.1" y="2550.5" width="3.3" height="3.3" fill="#12a030" opacity="0.18"/><rect x="767.7" y="2443.1" width="2.6" height="2.6" fill="#12a030" opacity="0.30"/><rect x="811.7" y="2373.7" width="2.2" height="2.2" fill="#12a030" opacity="0.19"/><rect x="714.7" y="2512.9" width="3.2" height="3.2" fill="#12a030" opacity="0.22"/><rect x="642.7" y="2353.4" width="2.7" height="2.7" fill="#12a030" opacity="0.15"/><rect x="882.7" y="2442.9" width="3.1" height="3.1" fill="#12a030" opacity="0.30"/><rect x="679.7" y="2447.8" width="2.4" height="2.4" fill="#12a030" opacity="0.25"/><rect x="589.8" y="2519.0" width="3.4" height="3.4" fill="#12a030" opacity="0.26"/><rect x="617.2" y="2381.3" width="3.2" height="3.2" fill="#12a030" opacity="0.12"/><rect x="751.2" y="2430.8" width="3.5" height="3.5" fill="#12a030" opacity="0.22"/><rect x="878.5" y="2389.7" width="3.3" height="3.3" fill="#12a030" opacity="0.18"/><rect x="898.5" y="2336.5" width="3.4" height="3.4" fill="#12a030" opacity="0.14"/><rect x="773.1" y="2445.6" width="2.4" height="2.4" fill="#12a030" opacity="0.27"/><rect x="694.9" y="2392.0" width="2.3" height="2.3" fill="#12a030" opacity="0.16"/><rect x="747.2" y="2492.8" width="2.7" height="2.7" fill="#12a030" opacity="0.24"/><rect x="625.2" y="2412.6" width="2.8" height="2.8" fill="#12a030" opacity="0.29"/><rect x="869.8" y="2477.7" width="2.2" height="2.2" fill="#12a030" opacity="0.18"/><rect x="829.0" y="2373.3" width="3.0" height="3.0" fill="#12a030" opacity="0.19"/><rect x="592.9" y="2561.5" width="3.3" height="3.3" fill="#12a030" opacity="0.14"/><rect x="797.4" y="2386.7" width="2.7" height="2.7" fill="#12a030" opacity="0.21"/><rect x="690.2" y="2398.4" width="2.7" height="2.7" fill="#12a030" opacity="0.23"/><rect x="675.9" y="2363.8" width="3.2" height="3.2" fill="#12a030" opacity="0.17"/><rect x="908.2" y="2454.5" width="3.2" height="3.2" fill="#12a030" opacity="0.17"/><rect x="868.7" y="2337.4" width="2.4" height="2.4" fill="#12a030" opacity="0.12"/><rect x="818.4" y="2491.2" width="2.5" height="2.5" fill="#12a030" opacity="0.18"/><rect x="872.1" y="2462.4" width="2.3" height="2.3" fill="#12a030" opacity="0.15"/><rect x="642.6" y="2345.1" width="2.8" height="2.8" fill="#12a030" opacity="0.11"/><rect x="900.1" y="2420.7" width="2.9" height="2.9" fill="#12a030" opacity="0.23"/><rect x="848.3" y="2519.2" width="2.7" height="2.7" fill="#12a030" opacity="0.17"/><rect x="728.6" y="2318.0" width="2.8" height="2.8" fill="#12a030" opacity="0.24"/><rect x="920.6" y="2511.2" width="3.1" height="3.1" fill="#12a030" opacity="0.22"/><rect x="595.9" y="2396.8" width="2.7" height="2.7" fill="#12a030" opacity="0.23"/><rect x="625.4" y="2408.4" width="2.9" height="2.9" fill="#12a030" opacity="0.26"/><rect x="868.1" y="2467.0" width="2.4" height="2.4" fill="#12a030" opacity="0.25"/><rect x="894.2" y="2451.1" width="2.7" height="2.7" fill="#12a030" opacity="0.20"/><rect x="637.0" y="2491.9" width="3.6" height="3.6" fill="#12a030" opacity="0.20"/><rect x="831.1" y="2523.0" width="2.5" height="2.5" fill="#12a030" opacity="0.29"/><rect x="801.4" y="2363.8" width="2.3" height="2.3" fill="#12a030" opacity="0.15"/><rect x="784.1" y="2488.3" width="2.7" height="2.7" fill="#12a030" opacity="0.29"/><rect x="711.6" y="2430.0" width="2.4" height="2.4" fill="#12a030" opacity="0.29"/><rect x="635.3" y="2539.9" width="3.0" height="3.0" fill="#12a030" opacity="0.21"/><rect x="778.3" y="2379.8" width="3.5" height="3.5" fill="#12a030" opacity="0.30"/><rect x="865.6" y="2464.6" width="2.4" height="2.4" fill="#12a030" opacity="0.26"/><rect x="687.1" y="2538.3" width="2.5" height="2.5" fill="#12a030" opacity="0.21"/><rect x="869.7" y="2360.4" width="3.0" height="3.0" fill="#12a030" opacity="0.12"/><rect x="600.0" y="2358.7" width="3.6" height="3.6" fill="#12a030" opacity="0.29"/><rect x="811.5" y="2390.8" width="3.1" height="3.1" fill="#12a030" opacity="0.25"/><rect x="718.1" y="2461.7" width="3.3" height="3.3" fill="#12a030" opacity="0.10"/><rect x="657.1" y="2431.2" width="2.4" height="2.4" fill="#12a030" opacity="0.18"/><rect x="781.6" y="2357.4" width="2.9" height="2.9" fill="#12a030" opacity="0.15"/><rect x="781.0" y="2396.9" width="3.1" height="3.1" fill="#12a030" opacity="0.11"/><rect x="815.6" y="2349.9" width="3.5" height="3.5" fill="#12a030" opacity="0.22"/><rect x="748.0" y="2416.7" width="3.1" height="3.1" fill="#12a030" opacity="0.24"/><rect x="845.2" y="2501.8" width="2.9" height="2.9" fill="#12a030" opacity="0.30"/><rect x="872.4" y="2527.7" width="2.8" height="2.8" fill="#12a030" opacity="0.19"/><rect x="780.4" y="2540.2" width="2.9" height="2.9" fill="#12a030" opacity="0.21"/><rect x="735.5" y="2540.1" width="2.6" height="2.6" fill="#12a030" opacity="0.11"/><rect x="834.1" y="2538.7" width="3.2" height="3.2" fill="#12a030" opacity="0.22"/><rect x="843.1" y="2390.1" width="3.0" height="3.0" fill="#12a030" opacity="0.11"/><rect x="631.5" y="2425.7" width="2.9" height="2.9" fill="#12a030" opacity="0.18"/><rect x="607.1" y="2487.6" width="2.9" height="2.9" fill="#12a030" opacity="0.15"/><rect x="693.0" y="2413.0" width="2.5" height="2.5" fill="#12a030" opacity="0.11"/><rect x="896.8" y="2555.4" width="3.1" height="3.1" fill="#12a030" opacity="0.27"/><rect x="731.9" y="2515.4" width="2.5" height="2.5" fill="#12a030" opacity="0.25"/><rect x="781.0" y="2540.0" width="2.3" height="2.3" fill="#12a030" opacity="0.26"/><rect x="631.0" y="2448.0" width="3.5" height="3.5" fill="#12a030" opacity="0.10"/><rect x="672.0" y="2388.9" width="2.7" height="2.7" fill="#12a030" opacity="0.11"/><rect x="891.5" y="2517.8" width="2.8" height="2.8" fill="#12a030" opacity="0.17"/><rect x="787.4" y="2325.8" width="2.2" height="2.2" fill="#12a030" opacity="0.28"/><rect x="693.1" y="2438.3" width="3.5" height="3.5" fill="#12a030" opacity="0.30"/><rect x="749.1" y="2365.8" width="2.6" height="2.6" fill="#12a030" opacity="0.28"/><rect x="891.8" y="2362.7" width="3.4" height="3.4" fill="#12a030" opacity="0.17"/><rect x="748.7" y="2356.7" width="3.4" height="3.4" fill="#12a030" opacity="0.30"/><rect x="657.9" y="2472.2" width="2.5" height="2.5" fill="#12a030" opacity="0.28"/><rect x="606.3" y="2340.4" width="3.2" height="3.2" fill="#12a030" opacity="0.16"/><rect x="893.1" y="2531.1" width="3.2" height="3.2" fill="#12a030" opacity="0.13"/><rect x="824.3" y="2548.4" width="2.8" height="2.8" fill="#12a030" opacity="0.12"/><rect x="664.7" y="2390.6" width="3.2" height="3.2" fill="#12a030" opacity="0.14"/><rect x="650.5" y="2372.7" width="3.1" height="3.1" fill="#12a030" opacity="0.26"/><rect x="714.9" y="2479.2" width="3.4" height="3.4" fill="#12a030" opacity="0.22"/><rect x="666.5" y="2388.9" width="3.5" height="3.5" fill="#12a030" opacity="0.23"/><rect x="683.2" y="2474.2" width="2.3" height="2.3" fill="#12a030" opacity="0.30"/><rect x="738.1" y="2446.0" width="2.9" height="2.9" fill="#12a030" opacity="0.11"/><rect x="792.0" y="2385.3" width="2.6" height="2.6" fill="#12a030" opacity="0.26"/><rect x="618.8" y="2385.1" width="3.3" height="3.3" fill="#12a030" opacity="0.15"/><rect x="683.9" y="2451.2" width="2.5" height="2.5" fill="#12a030" opacity="0.28"/><rect x="922.7" y="2322.5" width="2.8" height="2.8" fill="#12a030" opacity="0.25"/><rect x="719.3" y="2546.2" width="2.9" height="2.9" fill="#12a030" opacity="0.14"/><rect x="777.2" y="2475.3" width="2.7" height="2.7" fill="#12a030" opacity="0.23"/><rect x="853.7" y="2443.1" width="2.9" height="2.9" fill="#12a030" opacity="0.27"/><rect x="820.0" y="2443.8" width="3.5" height="3.5" fill="#12a030" opacity="0.13"/><rect x="852.5" y="2355.2" width="3.1" height="3.1" fill="#12a030" opacity="0.15"/><rect x="737.9" y="2507.0" width="3.3" height="3.3" fill="#12a030" opacity="0.26"/><rect x="669.3" y="2436.4" width="2.5" height="2.5" fill="#12a030" opacity="0.22"/><rect x="757.8" y="2322.8" width="3.0" height="3.0" fill="#12a030" opacity="0.24"/><rect x="782.9" y="2532.3" width="2.5" height="2.5" fill="#12a030" opacity="0.13"/><rect x="595.6" y="2438.0" width="2.8" height="2.8" fill="#12a030" opacity="0.19"/><rect x="678.5" y="2513.8" width="2.3" height="2.3" fill="#12a030" opacity="0.28"/><rect x="781.2" y="2449.5" width="3.3" height="3.3" fill="#12a030" opacity="0.15"/><rect x="639.2" y="2392.1" width="2.3" height="2.3" fill="#12a030" opacity="0.16"/><rect x="799.2" y="2445.5" width="2.6" height="2.6" fill="#12a030" opacity="0.22"/><rect x="619.6" y="2519.3" width="2.4" height="2.4" fill="#12a030" opacity="0.15"/><rect x="643.2" y="2486.3" width="3.4" height="3.4" fill="#12a030" opacity="0.26"/><rect x="610.3" y="2416.7" width="2.7" height="2.7" fill="#12a030" opacity="0.14"/><rect x="916.9" y="2324.6" width="2.9" height="2.9" fill="#12a030" opacity="0.25"/><rect x="922.2" y="2350.2" width="2.8" height="2.8" fill="#12a030" opacity="0.25"/><rect x="602.5" y="2373.9" width="3.4" height="3.4" fill="#12a030" opacity="0.13"/><rect x="722.1" y="2388.6" width="2.8" height="2.8" fill="#12a030" opacity="0.12"/><rect x="600.9" y="2562.7" width="3.3" height="3.3" fill="#12a030" opacity="0.25"/><rect x="667.1" y="2377.3" width="3.0" height="3.0" fill="#12a030" opacity="0.15"/><rect x="745.3" y="2547.1" width="2.7" height="2.7" fill="#12a030" opacity="0.17"/><rect x="920.8" y="2467.0" width="2.3" height="2.3" fill="#12a030" opacity="0.18"/><rect x="808.8" y="2328.8" width="2.7" height="2.7" fill="#12a030" opacity="0.24"/><rect x="880.8" y="2461.3" width="3.4" height="3.4" fill="#12a030" opacity="0.19"/><rect x="722.2" y="2524.7" width="2.7" height="2.7" fill="#12a030" opacity="0.26"/><rect x="662.4" y="2401.1" width="2.5" height="2.5" fill="#12a030" opacity="0.21"/><rect x="645.0" y="2365.1" width="2.5" height="2.5" fill="#12a030" opacity="0.19"/><rect x="693.3" y="2425.4" width="3.6" height="3.6" fill="#12a030" opacity="0.24"/><rect x="880.6" y="2365.2" width="2.7" height="2.7" fill="#12a030" opacity="0.11"/><rect x="822.9" y="2404.8" width="2.6" height="2.6" fill="#12a030" opacity="0.10"/><rect x="651.0" y="2379.7" width="2.8" height="2.8" fill="#12a030" opacity="0.28"/><rect x="830.9" y="2381.2" width="2.7" height="2.7" fill="#12a030" opacity="0.13"/><rect x="905.3" y="2403.7" width="3.3" height="3.3" fill="#12a030" opacity="0.24"/><rect x="895.6" y="2319.3" width="2.7" height="2.7" fill="#12a030" opacity="0.18"/><rect x="617.7" y="2534.6" width="2.7" height="2.7" fill="#12a030" opacity="0.25"/><rect x="764.8" y="2327.8" width="2.8" height="2.8" fill="#12a030" opacity="0.15"/><rect x="603.3" y="2351.7" width="3.0" height="3.0" fill="#12a030" opacity="0.11"/><rect x="694.9" y="2419.9" width="3.0" height="3.0" fill="#12a030" opacity="0.13"/><rect x="827.7" y="2378.9" width="3.2" height="3.2" fill="#12a030" opacity="0.23"/><rect x="639.4" y="2365.4" width="2.6" height="2.6" fill="#12a030" opacity="0.24"/><rect x="726.0" y="2410.3" width="3.4" height="3.4" fill="#12a030" opacity="0.15"/><rect x="688.3" y="2400.4" width="2.5" height="2.5" fill="#12a030" opacity="0.11"/><rect x="597.8" y="2471.5" width="3.0" height="3.0" fill="#12a030" opacity="0.26"/><rect x="918.5" y="2388.4" width="3.1" height="3.1" fill="#12a030" opacity="0.28"/><rect x="662.4" y="2486.1" width="3.1" height="3.1" fill="#12a030" opacity="0.29"/><rect x="882.4" y="2372.6" width="3.1" height="3.1" fill="#12a030" opacity="0.12"/><rect x="734.1" y="2412.4" width="2.3" height="2.3" fill="#12a030" opacity="0.18"/><rect x="700.4" y="2438.4" width="2.6" height="2.6" fill="#12a030" opacity="0.13"/><rect x="725.5" y="2433.0" width="2.4" height="2.4" fill="#12a030" opacity="0.23"/><rect x="670.5" y="2337.4" width="2.7" height="2.7" fill="#12a030" opacity="0.18"/><rect x="640.3" y="2459.5" width="3.2" height="3.2" fill="#12a030" opacity="0.21"/><rect x="825.8" y="2319.9" width="2.7" height="2.7" fill="#12a030" opacity="0.17"/><rect x="611.1" y="2415.4" width="2.3" height="2.3" fill="#12a030" opacity="0.20"/><rect x="787.3" y="2431.3" width="2.7" height="2.7" fill="#12a030" opacity="0.15"/><rect x="597.2" y="2400.5" width="3.4" height="3.4" fill="#12a030" opacity="0.21"/><rect x="678.1" y="2481.2" width="2.5" height="2.5" fill="#12a030" opacity="0.19"/><rect x="797.2" y="2552.6" width="2.7" height="2.7" fill="#12a030" opacity="0.22"/><rect x="907.3" y="2506.7" width="3.1" height="3.1" fill="#12a030" opacity="0.22"/><rect x="728.3" y="2418.0" width="2.6" height="2.6" fill="#12a030" opacity="0.27"/><rect x="886.0" y="2409.2" width="3.5" height="3.5" fill="#12a030" opacity="0.11"/><rect x="635.5" y="2440.9" width="2.6" height="2.6" fill="#12a030" opacity="0.17"/><rect x="919.3" y="2351.7" width="2.5" height="2.5" fill="#12a030" opacity="0.15"/><rect x="819.3" y="2373.0" width="2.2" height="2.2" fill="#12a030" opacity="0.21"/><rect x="722.4" y="2373.8" width="2.9" height="2.9" fill="#12a030" opacity="0.23"/><rect x="774.4" y="2470.0" width="3.0" height="3.0" fill="#12a030" opacity="0.27"/><rect x="916.4" y="2397.5" width="2.7" height="2.7" fill="#12a030" opacity="0.28"/><rect x="695.1" y="2492.8" width="3.2" height="3.2" fill="#12a030" opacity="0.24"/><rect x="914.9" y="2520.2" width="2.4" height="2.4" fill="#12a030" opacity="0.22"/><rect x="755.1" y="2455.0" width="2.7" height="2.7" fill="#12a030" opacity="0.16"/><rect x="842.4" y="2447.6" width="2.5" height="2.5" fill="#12a030" opacity="0.15"/><rect x="699.2" y="2358.5" width="2.9" height="2.9" fill="#12a030" opacity="0.13"/><rect x="611.2" y="2331.5" width="2.3" height="2.3" fill="#12a030" opacity="0.24"/><rect x="627.4" y="2426.7" width="3.3" height="3.3" fill="#12a030" opacity="0.20"/><rect x="644.1" y="2530.2" width="3.4" height="3.4" fill="#12a030" opacity="0.11"/><rect x="675.0" y="2440.6" width="3.3" height="3.3" fill="#12a030" opacity="0.18"/><rect x="830.9" y="2376.8" width="3.2" height="3.2" fill="#12a030" opacity="0.17"/><rect x="701.9" y="2503.5" width="3.4" height="3.4" fill="#12a030" opacity="0.27"/><rect x="780.8" y="2419.0" width="3.2" height="3.2" fill="#12a030" opacity="0.22"/><rect x="870.1" y="2514.5" width="2.4" height="2.4" fill="#12a030" opacity="0.18"/><rect x="815.5" y="2372.0" width="2.5" height="2.5" fill="#12a030" opacity="0.10"/><rect x="786.7" y="2548.8" width="3.6" height="3.6" fill="#12a030" opacity="0.13"/><rect x="821.4" y="2418.7" width="3.1" height="3.1" fill="#12a030" opacity="0.18"/><rect x="904.7" y="2561.4" width="2.3" height="2.3" fill="#12a030" opacity="0.24"/><rect x="629.6" y="2324.8" width="2.6" height="2.6" fill="#12a030" opacity="0.25"/><rect x="924.8" y="2344.2" width="2.7" height="2.7" fill="#12a030" opacity="0.11"/><rect x="772.6" y="2434.8" width="2.7" height="2.7" fill="#12a030" opacity="0.16"/><rect x="859.7" y="2523.7" width="2.6" height="2.6" fill="#12a030" opacity="0.18"/><rect x="797.6" y="2504.9" width="3.6" height="3.6" fill="#12a030" opacity="0.18"/><rect x="823.4" y="2450.2" width="3.3" height="3.3" fill="#12a030" opacity="0.13"/><rect x="648.3" y="2340.5" width="3.5" height="3.5" fill="#12a030" opacity="0.15"/><rect x="754.4" y="2344.2" width="2.7" height="2.7" fill="#12a030" opacity="0.10"/><rect x="780.3" y="2349.8" width="3.1" height="3.1" fill="#12a030" opacity="0.15"/><rect x="666.4" y="2434.6" width="2.7" height="2.7" fill="#12a030" opacity="0.15"/><rect x="606.6" y="2329.9" width="3.4" height="3.4" fill="#12a030" opacity="0.16"/><rect x="616.0" y="2359.6" width="2.9" height="2.9" fill="#12a030" opacity="0.30"/><rect x="657.8" y="2530.7" width="2.9" height="2.9" fill="#12a030" opacity="0.18"/><rect x="503.8" y="2681.5" width="2.3" height="2.3" fill="#12a030" opacity="0.15"/><rect x="453.0" y="2738.8" width="2.6" height="2.6" fill="#12a030" opacity="0.20"/><rect x="522.9" y="2832.7" width="2.8" height="2.8" fill="#12a030" opacity="0.19"/><rect x="476.1" y="2625.7" width="2.2" height="2.2" fill="#12a030" opacity="0.09"/><rect x="271.4" y="2599.9" width="2.7" height="2.7" fill="#12a030" opacity="0.18"/><rect x="336.2" y="2711.5" width="2.2" height="2.2" fill="#12a030" opacity="0.10"/><rect x="554.8" y="2583.6" width="2.9" height="2.9" fill="#12a030" opacity="0.18"/><rect x="498.6" y="2767.2" width="2.8" height="2.8" fill="#12a030" opacity="0.18"/><rect x="510.1" y="2775.0" width="3.6" height="3.6" fill="#12a030" opacity="0.08"/><rect x="551.7" y="2682.6" width="3.2" height="3.2" fill="#12a030" opacity="0.11"/><rect x="538.0" y="2586.7" width="3.0" height="3.0" fill="#12a030" opacity="0.10"/><rect x="362.1" y="2674.3" width="3.1" height="3.1" fill="#12a030" opacity="0.18"/><rect x="354.4" y="2742.6" width="2.7" height="2.7" fill="#12a030" opacity="0.11"/><rect x="536.8" y="2662.6" width="2.3" height="2.3" fill="#12a030" opacity="0.12"/><rect x="481.2" y="2634.2" width="3.2" height="3.2" fill="#12a030" opacity="0.15"/><rect x="461.0" y="2626.0" width="2.3" height="2.3" fill="#12a030" opacity="0.09"/><rect x="349.8" y="2690.3" width="2.2" height="2.2" fill="#12a030" opacity="0.14"/><rect x="367.3" y="2662.3" width="3.0" height="3.0" fill="#12a030" opacity="0.20"/><rect x="300.4" y="2804.0" width="2.6" height="2.6" fill="#12a030" opacity="0.18"/><rect x="267.8" y="2831.0" width="2.8" height="2.8" fill="#12a030" opacity="0.20"/><rect x="305.2" y="2684.1" width="3.2" height="3.2" fill="#12a030" opacity="0.09"/><rect x="323.1" y="2752.1" width="3.5" height="3.5" fill="#12a030" opacity="0.12"/><rect x="292.8" y="2671.0" width="3.6" height="3.6" fill="#12a030" opacity="0.09"/><rect x="445.2" y="2676.5" width="3.1" height="3.1" fill="#12a030" opacity="0.10"/><rect x="438.9" y="2805.4" width="3.4" height="3.4" fill="#12a030" opacity="0.16"/><rect x="401.8" y="2724.9" width="2.4" height="2.4" fill="#12a030" opacity="0.19"/><rect x="463.8" y="2695.5" width="3.1" height="3.1" fill="#12a030" opacity="0.13"/><rect x="360.9" y="2639.0" width="3.0" height="3.0" fill="#12a030" opacity="0.15"/><rect x="404.9" y="2588.9" width="3.1" height="3.1" fill="#12a030" opacity="0.13"/><rect x="431.1" y="2731.2" width="3.5" height="3.5" fill="#12a030" opacity="0.09"/><rect x="389.2" y="2832.2" width="3.2" height="3.2" fill="#12a030" opacity="0.11"/><rect x="479.8" y="2831.5" width="2.8" height="2.8" fill="#12a030" opacity="0.19"/><rect x="274.0" y="2831.6" width="2.9" height="2.9" fill="#12a030" opacity="0.10"/><rect x="514.3" y="2745.0" width="3.5" height="3.5" fill="#12a030" opacity="0.19"/><rect x="500.0" y="2710.1" width="3.6" height="3.6" fill="#12a030" opacity="0.08"/><rect x="524.9" y="2761.3" width="2.6" height="2.6" fill="#12a030" opacity="0.18"/><rect x="384.2" y="2716.4" width="3.4" height="3.4" fill="#12a030" opacity="0.10"/><rect x="325.9" y="2744.2" width="2.3" height="2.3" fill="#12a030" opacity="0.15"/><rect x="496.9" y="2705.3" width="2.5" height="2.5" fill="#12a030" opacity="0.18"/><rect x="519.6" y="2776.1" width="3.0" height="3.0" fill="#12a030" opacity="0.20"/><rect x="500.1" y="2619.4" width="2.7" height="2.7" fill="#12a030" opacity="0.08"/><rect x="243.4" y="2668.2" width="3.4" height="3.4" fill="#12a030" opacity="0.19"/><rect x="270.9" y="2627.0" width="2.7" height="2.7" fill="#12a030" opacity="0.19"/><rect x="439.7" y="2809.6" width="2.3" height="2.3" fill="#12a030" opacity="0.21"/><rect x="300.7" y="2740.0" width="3.4" height="3.4" fill="#12a030" opacity="0.17"/><rect x="297.8" y="2750.2" width="2.8" height="2.8" fill="#12a030" opacity="0.07"/><rect x="345.7" y="2660.6" width="3.1" height="3.1" fill="#12a030" opacity="0.11"/><rect x="434.9" y="2757.1" width="2.5" height="2.5" fill="#12a030" opacity="0.09"/><rect x="465.5" y="2699.3" width="2.4" height="2.4" fill="#12a030" opacity="0.09"/><rect x="548.8" y="2735.5" width="2.7" height="2.7" fill="#12a030" opacity="0.10"/><rect x="566.6" y="2755.9" width="3.2" height="3.2" fill="#12a030" opacity="0.12"/><rect x="336.2" y="2684.5" width="2.4" height="2.4" fill="#12a030" opacity="0.16"/><rect x="374.6" y="2788.7" width="2.8" height="2.8" fill="#12a030" opacity="0.13"/><rect x="402.2" y="2819.5" width="2.7" height="2.7" fill="#12a030" opacity="0.17"/><rect x="310.7" y="2727.7" width="2.6" height="2.6" fill="#12a030" opacity="0.19"/><rect x="327.8" y="2797.2" width="3.1" height="3.1" fill="#12a030" opacity="0.13"/><rect x="546.0" y="2678.9" width="3.2" height="3.2" fill="#12a030" opacity="0.15"/><rect x="382.6" y="2597.2" width="2.8" height="2.8" fill="#12a030" opacity="0.11"/><rect x="380.1" y="2822.8" width="2.6" height="2.6" fill="#12a030" opacity="0.17"/><rect x="458.0" y="2642.9" width="2.8" height="2.8" fill="#12a030" opacity="0.09"/><rect x="533.3" y="2644.7" width="2.8" height="2.8" fill="#12a030" opacity="0.12"/><rect x="507.9" y="2796.2" width="3.0" height="3.0" fill="#12a030" opacity="0.15"/><rect x="265.1" y="2808.2" width="2.3" height="2.3" fill="#12a030" opacity="0.12"/><rect x="357.4" y="2763.9" width="3.1" height="3.1" fill="#12a030" opacity="0.12"/><rect x="534.4" y="2821.7" width="2.2" height="2.2" fill="#12a030" opacity="0.16"/><rect x="389.5" y="2672.5" width="2.9" height="2.9" fill="#12a030" opacity="0.11"/><rect x="457.2" y="2733.9" width="3.6" height="3.6" fill="#12a030" opacity="0.21"/><rect x="565.8" y="2680.7" width="3.4" height="3.4" fill="#12a030" opacity="0.16"/><rect x="468.0" y="2833.9" width="2.3" height="2.3" fill="#12a030" opacity="0.13"/><rect x="366.8" y="2747.2" width="2.5" height="2.5" fill="#12a030" opacity="0.21"/><rect x="302.1" y="2674.8" width="2.4" height="2.4" fill="#12a030" opacity="0.13"/><rect x="481.7" y="2602.2" width="2.4" height="2.4" fill="#12a030" opacity="0.16"/><rect x="441.6" y="2769.0" width="2.6" height="2.6" fill="#12a030" opacity="0.18"/><rect x="478.0" y="2777.7" width="2.4" height="2.4" fill="#12a030" opacity="0.14"/><rect x="236.3" y="2798.3" width="3.5" height="3.5" fill="#12a030" opacity="0.20"/><rect x="239.4" y="2669.8" width="3.0" height="3.0" fill="#12a030" opacity="0.14"/><rect x="268.9" y="2780.9" width="2.6" height="2.6" fill="#12a030" opacity="0.14"/><rect x="273.5" y="2725.0" width="2.4" height="2.4" fill="#12a030" opacity="0.08"/><rect x="403.8" y="2655.1" width="3.3" height="3.3" fill="#12a030" opacity="0.10"/><rect x="371.1" y="2594.8" width="2.5" height="2.5" fill="#12a030" opacity="0.13"/><rect x="419.3" y="2697.0" width="3.4" height="3.4" fill="#12a030" opacity="0.08"/><rect x="517.7" y="2619.7" width="3.6" height="3.6" fill="#12a030" opacity="0.14"/><rect x="368.1" y="2735.7" width="3.4" height="3.4" fill="#12a030" opacity="0.20"/><rect x="370.9" y="2583.8" width="2.4" height="2.4" fill="#12a030" opacity="0.18"/><rect x="479.2" y="2761.6" width="2.4" height="2.4" fill="#12a030" opacity="0.14"/><rect x="241.0" y="2608.9" width="2.6" height="2.6" fill="#12a030" opacity="0.21"/><rect x="448.5" y="2795.9" width="2.3" height="2.3" fill="#12a030" opacity="0.13"/><rect x="257.9" y="2647.2" width="2.4" height="2.4" fill="#12a030" opacity="0.20"/><rect x="342.0" y="2704.6" width="3.1" height="3.1" fill="#12a030" opacity="0.19"/><rect x="550.5" y="2724.7" width="2.9" height="2.9" fill="#12a030" opacity="0.20"/><rect x="364.1" y="2656.5" width="3.2" height="3.2" fill="#12a030" opacity="0.11"/><rect x="355.3" y="2689.6" width="2.9" height="2.9" fill="#12a030" opacity="0.12"/><rect x="376.8" y="2695.4" width="2.3" height="2.3" fill="#12a030" opacity="0.19"/><rect x="252.0" y="2714.5" width="3.0" height="3.0" fill="#12a030" opacity="0.13"/><rect x="306.4" y="2606.1" width="2.7" height="2.7" fill="#12a030" opacity="0.11"/><rect x="394.3" y="2639.0" width="3.2" height="3.2" fill="#12a030" opacity="0.14"/><rect x="233.9" y="2683.5" width="3.6" height="3.6" fill="#12a030" opacity="0.07"/><rect x="431.5" y="2824.3" width="2.7" height="2.7" fill="#12a030" opacity="0.15"/><rect x="355.6" y="2657.1" width="3.1" height="3.1" fill="#12a030" opacity="0.15"/><rect x="337.5" y="2706.9" width="2.9" height="2.9" fill="#12a030" opacity="0.18"/><rect x="249.3" y="2604.5" width="2.6" height="2.6" fill="#12a030" opacity="0.11"/><rect x="499.4" y="2688.4" width="3.4" height="3.4" fill="#12a030" opacity="0.13"/><rect x="327.9" y="2753.4" width="2.3" height="2.3" fill="#12a030" opacity="0.21"/><rect x="511.9" y="2664.1" width="2.6" height="2.6" fill="#12a030" opacity="0.18"/><rect x="497.5" y="2743.8" width="2.3" height="2.3" fill="#12a030" opacity="0.18"/><rect x="247.4" y="2739.1" width="3.0" height="3.0" fill="#12a030" opacity="0.20"/><rect x="446.4" y="2586.2" width="3.5" height="3.5" fill="#12a030" opacity="0.18"/><rect x="426.7" y="2582.1" width="3.2" height="3.2" fill="#12a030" opacity="0.13"/><rect x="460.2" y="2829.7" width="3.5" height="3.5" fill="#12a030" opacity="0.08"/><rect x="494.6" y="2692.3" width="3.3" height="3.3" fill="#12a030" opacity="0.12"/><rect x="382.5" y="2691.8" width="2.4" height="2.4" fill="#12a030" opacity="0.11"/><rect x="479.3" y="2599.2" width="2.4" height="2.4" fill="#12a030" opacity="0.19"/><rect x="456.2" y="2720.0" width="2.4" height="2.4" fill="#12a030" opacity="0.09"/><rect x="335.8" y="2822.4" width="3.0" height="3.0" fill="#12a030" opacity="0.20"/><rect x="302.4" y="2685.9" width="3.0" height="3.0" fill="#12a030" opacity="0.19"/><rect x="272.9" y="2802.2" width="2.9" height="2.9" fill="#12a030" opacity="0.07"/><rect x="376.8" y="2676.4" width="3.1" height="3.1" fill="#12a030" opacity="0.20"/><rect x="397.8" y="2755.6" width="2.7" height="2.7" fill="#12a030" opacity="0.18"/><rect x="267.0" y="2769.1" width="2.4" height="2.4" fill="#12a030" opacity="0.15"/><rect x="299.7" y="2668.8" width="2.4" height="2.4" fill="#12a030" opacity="0.12"/><rect x="430.8" y="2712.6" width="2.7" height="2.7" fill="#12a030" opacity="0.15"/><rect x="515.3" y="2671.5" width="3.0" height="3.0" fill="#12a030" opacity="0.14"/><rect x="561.9" y="2663.8" width="3.2" height="3.2" fill="#12a030" opacity="0.10"/><rect x="319.3" y="2765.8" width="3.0" height="3.0" fill="#12a030" opacity="0.11"/><rect x="253.0" y="2789.9" width="2.7" height="2.7" fill="#12a030" opacity="0.17"/><rect x="377.2" y="2737.3" width="3.0" height="3.0" fill="#12a030" opacity="0.21"/><rect x="538.1" y="2696.3" width="2.9" height="2.9" fill="#12a030" opacity="0.10"/><rect x="485.4" y="2606.9" width="2.6" height="2.6" fill="#12a030" opacity="0.19"/><rect x="243.0" y="2757.7" width="3.0" height="3.0" fill="#12a030" opacity="0.15"/><rect x="343.3" y="2618.9" width="3.5" height="3.5" fill="#12a030" opacity="0.18"/><rect x="502.8" y="2605.4" width="3.3" height="3.3" fill="#12a030" opacity="0.10"/><rect x="298.4" y="2716.3" width="3.1" height="3.1" fill="#12a030" opacity="0.09"/><rect x="489.0" y="2728.1" width="3.5" height="3.5" fill="#12a030" opacity="0.20"/><rect x="463.4" y="2672.7" width="3.5" height="3.5" fill="#12a030" opacity="0.17"/><rect x="329.2" y="2797.9" width="3.2" height="3.2" fill="#12a030" opacity="0.11"/><rect x="315.3" y="2586.0" width="3.0" height="3.0" fill="#12a030" opacity="0.11"/><rect x="330.3" y="2645.2" width="2.4" height="2.4" fill="#12a030" opacity="0.14"/><rect x="323.4" y="2653.2" width="2.6" height="2.6" fill="#12a030" opacity="0.14"/><rect x="525.7" y="2621.2" width="3.4" height="3.4" fill="#12a030" opacity="0.19"/><rect x="436.6" y="2718.4" width="3.2" height="3.2" fill="#12a030" opacity="0.14"/><rect x="453.7" y="2813.5" width="3.3" height="3.3" fill="#12a030" opacity="0.11"/><rect x="249.7" y="2818.2" width="2.7" height="2.7" fill="#12a030" opacity="0.18"/><rect x="310.1" y="2695.6" width="2.7" height="2.7" fill="#12a030" opacity="0.17"/><rect x="549.5" y="2708.9" width="3.0" height="3.0" fill="#12a030" opacity="0.12"/><rect x="309.8" y="2821.7" width="2.4" height="2.4" fill="#12a030" opacity="0.20"/><rect x="452.6" y="2598.8" width="3.5" height="3.5" fill="#12a030" opacity="0.08"/><rect x="421.6" y="2610.8" width="3.6" height="3.6" fill="#12a030" opacity="0.11"/><rect x="525.3" y="2596.3" width="3.1" height="3.1" fill="#12a030" opacity="0.08"/><rect x="240.9" y="2725.1" width="3.6" height="3.6" fill="#12a030" opacity="0.17"/><rect x="519.7" y="2779.6" width="2.9" height="2.9" fill="#12a030" opacity="0.08"/><rect x="409.0" y="2627.6" width="2.9" height="2.9" fill="#12a030" opacity="0.12"/><rect x="399.4" y="2630.7" width="3.2" height="3.2" fill="#12a030" opacity="0.13"/><rect x="395.2" y="2600.8" width="2.9" height="2.9" fill="#12a030" opacity="0.15"/><rect x="559.5" y="2723.3" width="2.4" height="2.4" fill="#12a030" opacity="0.11"/><rect x="344.2" y="2758.4" width="3.5" height="3.5" fill="#12a030" opacity="0.21"/><rect x="551.4" y="2815.0" width="3.4" height="3.4" fill="#12a030" opacity="0.20"/><rect x="238.0" y="2704.8" width="3.0" height="3.0" fill="#12a030" opacity="0.17"/><rect x="437.6" y="2735.9" width="3.5" height="3.5" fill="#12a030" opacity="0.08"/><rect x="406.7" y="2824.2" width="2.2" height="2.2" fill="#12a030" opacity="0.09"/><rect x="524.7" y="2823.6" width="2.2" height="2.2" fill="#12a030" opacity="0.07"/><rect x="511.1" y="2755.2" width="2.9" height="2.9" fill="#12a030" opacity="0.15"/><rect x="487.1" y="2785.8" width="2.2" height="2.2" fill="#12a030" opacity="0.08"/><rect x="498.9" y="2827.7" width="3.4" height="3.4" fill="#12a030" opacity="0.13"/><rect x="344.8" y="2669.0" width="2.2" height="2.2" fill="#12a030" opacity="0.18"/><rect x="319.7" y="2729.2" width="2.9" height="2.9" fill="#12a030" opacity="0.12"/><rect x="459.1" y="2696.3" width="2.5" height="2.5" fill="#12a030" opacity="0.19"/><rect x="290.7" y="2619.0" width="2.6" height="2.6" fill="#12a030" opacity="0.14"/><rect x="495.8" y="2665.4" width="2.5" height="2.5" fill="#12a030" opacity="0.16"/><rect x="319.2" y="2713.4" width="2.6" height="2.6" fill="#12a030" opacity="0.19"/><rect x="293.6" y="2639.8" width="2.6" height="2.6" fill="#12a030" opacity="0.12"/><rect x="834.4" y="2751.4" width="3.3" height="3.3" fill="#12a030" opacity="0.21"/><rect x="616.2" y="2774.4" width="2.5" height="2.5" fill="#12a030" opacity="0.14"/><rect x="729.4" y="2831.7" width="2.7" height="2.7" fill="#12a030" opacity="0.17"/><rect x="719.9" y="2615.0" width="3.3" height="3.3" fill="#12a030" opacity="0.26"/><rect x="703.7" y="2781.2" width="2.7" height="2.7" fill="#12a030" opacity="0.16"/><rect x="789.7" y="2768.7" width="2.9" height="2.9" fill="#12a030" opacity="0.26"/><rect x="594.3" y="2707.3" width="2.7" height="2.7" fill="#12a030" opacity="0.11"/><rect x="898.2" y="2617.4" width="2.5" height="2.5" fill="#12a030" opacity="0.28"/><rect x="705.1" y="2816.9" width="2.4" height="2.4" fill="#12a030" opacity="0.24"/><rect x="908.8" y="2629.9" width="2.4" height="2.4" fill="#12a030" opacity="0.24"/><rect x="886.9" y="2764.6" width="3.5" height="3.5" fill="#12a030" opacity="0.19"/><rect x="715.3" y="2611.4" width="2.6" height="2.6" fill="#12a030" opacity="0.29"/><rect x="613.8" y="2627.8" width="2.7" height="2.7" fill="#12a030" opacity="0.11"/><rect x="693.4" y="2627.4" width="2.4" height="2.4" fill="#12a030" opacity="0.21"/><rect x="771.6" y="2724.5" width="3.3" height="3.3" fill="#12a030" opacity="0.21"/><rect x="909.2" y="2601.7" width="2.5" height="2.5" fill="#12a030" opacity="0.12"/><rect x="693.6" y="2773.2" width="3.5" height="3.5" fill="#12a030" opacity="0.20"/><rect x="643.6" y="2664.5" width="3.0" height="3.0" fill="#12a030" opacity="0.16"/><rect x="744.4" y="2733.4" width="3.4" height="3.4" fill="#12a030" opacity="0.19"/><rect x="653.6" y="2819.6" width="3.6" height="3.6" fill="#12a030" opacity="0.10"/><rect x="847.1" y="2682.6" width="2.3" height="2.3" fill="#12a030" opacity="0.13"/><rect x="648.1" y="2767.6" width="2.5" height="2.5" fill="#12a030" opacity="0.10"/><rect x="663.7" y="2783.3" width="2.9" height="2.9" fill="#12a030" opacity="0.23"/><rect x="746.8" y="2627.4" width="2.2" height="2.2" fill="#12a030" opacity="0.16"/><rect x="603.5" y="2646.8" width="3.1" height="3.1" fill="#12a030" opacity="0.17"/><rect x="749.2" y="2739.0" width="2.6" height="2.6" fill="#12a030" opacity="0.17"/><rect x="887.7" y="2728.1" width="2.8" height="2.8" fill="#12a030" opacity="0.21"/><rect x="744.5" y="2664.8" width="3.5" height="3.5" fill="#12a030" opacity="0.15"/><rect x="887.0" y="2622.0" width="2.9" height="2.9" fill="#12a030" opacity="0.30"/><rect x="686.8" y="2624.0" width="3.2" height="3.2" fill="#12a030" opacity="0.15"/><rect x="786.1" y="2620.5" width="3.5" height="3.5" fill="#12a030" opacity="0.16"/><rect x="622.4" y="2755.1" width="2.7" height="2.7" fill="#12a030" opacity="0.21"/><rect x="757.3" y="2814.5" width="2.9" height="2.9" fill="#12a030" opacity="0.18"/><rect x="590.3" y="2706.8" width="2.6" height="2.6" fill="#12a030" opacity="0.21"/><rect x="803.0" y="2698.2" width="2.3" height="2.3" fill="#12a030" opacity="0.20"/><rect x="751.7" y="2743.0" width="3.6" height="3.6" fill="#12a030" opacity="0.16"/><rect x="738.7" y="2602.1" width="3.3" height="3.3" fill="#12a030" opacity="0.15"/><rect x="675.4" y="2809.5" width="2.9" height="2.9" fill="#12a030" opacity="0.19"/><rect x="776.8" y="2820.4" width="2.9" height="2.9" fill="#12a030" opacity="0.20"/><rect x="687.6" y="2793.9" width="2.9" height="2.9" fill="#12a030" opacity="0.17"/><rect x="655.6" y="2635.1" width="3.4" height="3.4" fill="#12a030" opacity="0.26"/><rect x="820.5" y="2782.7" width="3.2" height="3.2" fill="#12a030" opacity="0.26"/><rect x="859.6" y="2625.3" width="3.3" height="3.3" fill="#12a030" opacity="0.16"/><rect x="672.2" y="2814.1" width="2.2" height="2.2" fill="#12a030" opacity="0.20"/><rect x="705.2" y="2781.3" width="3.1" height="3.1" fill="#12a030" opacity="0.28"/><rect x="904.4" y="2744.4" width="2.3" height="2.3" fill="#12a030" opacity="0.23"/><rect x="626.2" y="2829.4" width="3.4" height="3.4" fill="#12a030" opacity="0.16"/><rect x="652.1" y="2756.5" width="3.3" height="3.3" fill="#12a030" opacity="0.30"/><rect x="799.5" y="2612.4" width="3.2" height="3.2" fill="#12a030" opacity="0.11"/><rect x="882.0" y="2775.3" width="3.3" height="3.3" fill="#12a030" opacity="0.27"/><rect x="781.4" y="2819.7" width="3.1" height="3.1" fill="#12a030" opacity="0.20"/><rect x="719.6" y="2670.7" width="2.2" height="2.2" fill="#12a030" opacity="0.13"/><rect x="857.8" y="2638.7" width="3.1" height="3.1" fill="#12a030" opacity="0.26"/><rect x="823.9" y="2711.6" width="2.6" height="2.6" fill="#12a030" opacity="0.15"/><rect x="652.6" y="2744.8" width="3.2" height="3.2" fill="#12a030" opacity="0.29"/><rect x="700.8" y="2815.4" width="3.5" height="3.5" fill="#12a030" opacity="0.16"/><rect x="910.3" y="2737.4" width="3.5" height="3.5" fill="#12a030" opacity="0.25"/><rect x="701.9" y="2651.6" width="2.9" height="2.9" fill="#12a030" opacity="0.20"/><rect x="601.5" y="2799.3" width="2.9" height="2.9" fill="#12a030" opacity="0.19"/><rect x="840.9" y="2644.3" width="2.5" height="2.5" fill="#12a030" opacity="0.22"/><rect x="671.2" y="2664.1" width="2.3" height="2.3" fill="#12a030" opacity="0.11"/><rect x="709.1" y="2714.0" width="3.5" height="3.5" fill="#12a030" opacity="0.23"/><rect x="729.5" y="2684.1" width="2.5" height="2.5" fill="#12a030" opacity="0.19"/><rect x="913.1" y="2611.8" width="2.8" height="2.8" fill="#12a030" opacity="0.24"/><rect x="846.6" y="2721.4" width="3.1" height="3.1" fill="#12a030" opacity="0.29"/><rect x="894.0" y="2644.4" width="3.0" height="3.0" fill="#12a030" opacity="0.30"/><rect x="767.4" y="2628.6" width="3.3" height="3.3" fill="#12a030" opacity="0.11"/><rect x="640.4" y="2720.6" width="2.6" height="2.6" fill="#12a030" opacity="0.24"/><rect x="834.5" y="2661.5" width="3.3" height="3.3" fill="#12a030" opacity="0.23"/><rect x="827.7" y="2696.6" width="2.8" height="2.8" fill="#12a030" opacity="0.12"/><rect x="749.4" y="2822.4" width="3.4" height="3.4" fill="#12a030" opacity="0.11"/><rect x="613.4" y="2649.0" width="3.2" height="3.2" fill="#12a030" opacity="0.19"/><rect x="632.6" y="2688.6" width="3.0" height="3.0" fill="#12a030" opacity="0.25"/><rect x="725.4" y="2745.3" width="3.2" height="3.2" fill="#12a030" opacity="0.22"/><rect x="605.5" y="2761.1" width="2.4" height="2.4" fill="#12a030" opacity="0.11"/><rect x="749.6" y="2585.4" width="2.3" height="2.3" fill="#12a030" opacity="0.18"/><rect x="747.3" y="2607.3" width="3.5" height="3.5" fill="#12a030" opacity="0.27"/><rect x="753.8" y="2729.9" width="2.6" height="2.6" fill="#12a030" opacity="0.30"/><rect x="630.2" y="2658.1" width="2.5" height="2.5" fill="#12a030" opacity="0.27"/><rect x="761.2" y="2684.9" width="2.8" height="2.8" fill="#12a030" opacity="0.28"/><rect x="676.2" y="2781.1" width="3.2" height="3.2" fill="#12a030" opacity="0.19"/><rect x="713.0" y="2691.5" width="2.8" height="2.8" fill="#12a030" opacity="0.16"/><rect x="800.1" y="2685.1" width="2.6" height="2.6" fill="#12a030" opacity="0.25"/><rect x="742.8" y="2700.5" width="3.4" height="3.4" fill="#12a030" opacity="0.19"/><rect x="716.0" y="2808.0" width="3.6" height="3.6" fill="#12a030" opacity="0.26"/><rect x="724.8" y="2750.7" width="3.2" height="3.2" fill="#12a030" opacity="0.16"/><rect x="833.6" y="2821.3" width="3.1" height="3.1" fill="#12a030" opacity="0.23"/><rect x="736.5" y="2746.6" width="2.5" height="2.5" fill="#12a030" opacity="0.25"/><rect x="771.5" y="2829.2" width="2.7" height="2.7" fill="#12a030" opacity="0.24"/><rect x="595.0" y="2686.1" width="3.3" height="3.3" fill="#12a030" opacity="0.15"/><rect x="796.6" y="2636.9" width="2.8" height="2.8" fill="#12a030" opacity="0.30"/><rect x="656.2" y="2812.4" width="2.3" height="2.3" fill="#12a030" opacity="0.22"/><rect x="721.4" y="2730.2" width="3.2" height="3.2" fill="#12a030" opacity="0.25"/><rect x="841.6" y="2727.7" width="2.6" height="2.6" fill="#12a030" opacity="0.24"/><rect x="778.5" y="2718.4" width="3.6" height="3.6" fill="#12a030" opacity="0.13"/><rect x="852.7" y="2663.0" width="3.2" height="3.2" fill="#12a030" opacity="0.29"/><rect x="682.1" y="2724.5" width="2.9" height="2.9" fill="#12a030" opacity="0.20"/><rect x="645.6" y="2739.0" width="3.5" height="3.5" fill="#12a030" opacity="0.23"/><rect x="687.1" y="2785.1" width="2.8" height="2.8" fill="#12a030" opacity="0.13"/><rect x="793.9" y="2697.4" width="2.9" height="2.9" fill="#12a030" opacity="0.30"/><rect x="781.7" y="2822.5" width="2.7" height="2.7" fill="#12a030" opacity="0.25"/><rect x="614.8" y="2656.8" width="3.2" height="3.2" fill="#12a030" opacity="0.24"/><rect x="869.1" y="2677.3" width="2.6" height="2.6" fill="#12a030" opacity="0.17"/>
</g>
</g>
<g id="panelE">
<text transform="translate(1004.4 2302.6) scale(0.93 1)" font-size="99.5">E</text>
<rect x="1171.5" y="2464.8" width="49.2" height="215.2" fill="#fff" stroke="#000000" stroke-width="4.6"/>
<rect x="1251.9" y="2481.9" width="50.8" height="198.1" fill="#fff" stroke="#cc33e6" stroke-width="4.2"/>
<rect x="1333.8" y="2386.1" width="51.1" height="293.9" fill="#fff" stroke="#2f2fe8" stroke-width="4.2"/>
<rect x="1415.7" y="2472.5" width="51.1" height="207.5" fill="#fff" stroke="#ff3535" stroke-width="4.0"/>
<path d="M1196.0 2453.0V2468.0M1184.0 2453.0h24M1184.0 2468.0h24" stroke="#000000" stroke-width="3" fill="none"/>
<circle cx="1195.8" cy="2450.5" r="5.6" fill="#000000"/>
<circle cx="1175.5" cy="2468.5" r="5.6" fill="#000000"/>
<circle cx="1217.5" cy="2463.5" r="5.6" fill="#000000"/>
<path d="M1278.3 2468.6V2490.5M1266.3 2468.6h24M1266.3 2490.5h24" stroke="#cc33e6" stroke-width="3" fill="none"/>
<rect x="1273.2" y="2463.3" width="10.5" height="10.5" fill="#cc33e6"/>
<rect x="1250.8" y="2482.8" width="10.5" height="10.5" fill="#cc33e6"/>
<rect x="1293.2" y="2481.2" width="10.5" height="10.5" fill="#cc33e6"/>
<path d="M1359.6 2377.5V2392.0M1347.6 2377.5h24M1347.6 2392.0h24" stroke="#2f2fe8" stroke-width="3" fill="none"/>
<path d="M1359.6 2373.5L1365.6 2384.3H1353.6Z" fill="#2f2fe8"/>
<path d="M1337.5 2384.5L1343.5 2395.3H1331.5Z" fill="#2f2fe8"/>
<path d="M1382.0 2381.5L1388.0 2392.3H1376.0Z" fill="#2f2fe8"/>
<path d="M1441.0 2456.4V2487.8M1429.0 2456.4h24M1429.0 2487.8h24" stroke="#ff3535" stroke-width="3" fill="none"/>
<path d="M1462.0 2462.0L1468.0 2451.2H1456.0Z" fill="#ff3535"/>
<path d="M1441.4 2473.0L1447.4 2462.2H1435.4Z" fill="#ff3535"/>
<path d="M1441.0 2494.0L1447.0 2483.2H1435.0Z" fill="#ff3535"/>
<line x1="1155.40" y1="2350.00" x2="1155.40" y2="2682.00" stroke="#111" stroke-width="3" />
<line x1="1144.70" y1="2680.00" x2="1484.00" y2="2680.00" stroke="#111" stroke-width="4.6" />
<line x1="1144.70" y1="2351.40" x2="1155.40" y2="2351.40" stroke="#111" stroke-width="3" />
<text x="1141.5" y="2366.6" font-size="46" text-anchor="end" fill="#1a1a1a">1.5</text>
<line x1="1144.70" y1="2460.60" x2="1155.40" y2="2460.60" stroke="#111" stroke-width="3" />
<text x="1141.5" y="2475.8" font-size="46" text-anchor="end" fill="#1a1a1a">1.0</text>
<line x1="1144.70" y1="2570.40" x2="1155.40" y2="2570.40" stroke="#111" stroke-width="3" />
<text x="1141.5" y="2585.6" font-size="46" text-anchor="end" fill="#1a1a1a">0.5</text>
<line x1="1144.70" y1="2680.00" x2="1155.40" y2="2680.00" stroke="#111" stroke-width="3" />
<text x="1141.5" y="2695.2" font-size="46" text-anchor="end" fill="#1a1a1a">0.0</text>
<line x1="1195.30" y1="2680.00" x2="1195.30" y2="2692.50" stroke="#111" stroke-width="3" />
<line x1="1278.40" y1="2680.00" x2="1278.40" y2="2692.50" stroke="#111" stroke-width="3" />
<line x1="1359.60" y1="2680.00" x2="1359.60" y2="2692.50" stroke="#111" stroke-width="3" />
<line x1="1441.00" y1="2680.00" x2="1441.00" y2="2692.50" stroke="#111" stroke-width="3" />
<text transform="translate(1209.0 2727.0) rotate(-45)" font-size="46" text-anchor="end" fill="#111">Man</text>
<text transform="translate(1291.0 2727.0) rotate(-45)" font-size="46" text-anchor="end" fill="#111">Man+Lira</text>
<text transform="translate(1371.0 2727.0) rotate(-45)" font-size="46" text-anchor="end" fill="#111">HG</text>
<text transform="translate(1454.0 2727.0) rotate(-45)" font-size="46" text-anchor="end" fill="#111">HG+Lira</text>
<text x="1359.0" y="2380.5" font-size="73" text-anchor="middle">*</text>
<text x="1440.0" y="2441.5" font-size="48" text-anchor="middle">#</text>
<text transform="translate(997.5 2563.0) rotate(-90)" font-size="56" fill="#111">ROS</text>
<text transform="translate(1054 2667) rotate(-90)" fill="#111" font-size="40.5"><tspan x="0">（</tspan><tspan x="159.5" text-anchor="middle" font-size="44.7">Fold of Man</tspan><tspan x="285">）</tspan></text>
</g>
<g id="panelG">
<text transform="translate(1470.6 2302.5) scale(0.96 1)" font-size="99.5">G</text>
<rect x="1742.0" y="2506.3" width="50.7" height="165.3" fill="#fff" stroke="#222222" stroke-width="2.6"/>
<rect x="1819.2" y="2500.8" width="50.7" height="170.8" fill="#fff" stroke="#a838c0" stroke-width="2.6"/>
<rect x="1898.3" y="2453.1" width="50.2" height="218.5" fill="#fff" stroke="#4444cc" stroke-width="2.6"/>
<rect x="1975.6" y="2498.9" width="51.4" height="172.7" fill="#fff" stroke="#f23030" stroke-width="2.6"/>
<path d="M1767.3 2497.0V2513.0M1754.3 2497.0h26M1754.3 2513.0h26" stroke="#222222" stroke-width="2.4" fill="none"/>
<circle cx="1767.3" cy="2498.4" r="8.2" fill="#000000"/>
<circle cx="1786.5" cy="2498.4" r="8.2" fill="#000000"/>
<circle cx="1767.3" cy="2517.0" r="8.2" fill="#000000"/>
<path d="M1845.0 2492.0V2507.0M1832.0 2492.0h26M1832.0 2507.0h26" stroke="#a838c0" stroke-width="2.4" fill="none"/>
<rect x="1817.8" y="2498.7" width="15.5" height="15.5" fill="#d428e4"/>
<rect x="1837.2" y="2484.6" width="15.5" height="15.5" fill="#d428e4"/>
<rect x="1857.2" y="2490.7" width="15.5" height="15.5" fill="#d428e4"/>
<path d="M1923.0 2432.0V2452.0M1923.0 2432.0h0M1923.0 2452.0h0" stroke="#4444cc" stroke-width="2.4" fill="none"/>
<path d="M1923.0 2421.7L1933.0 2439.7H1913.0Z" fill="#2222ee"/>
<path d="M1903.7 2455.7L1913.7 2473.7H1893.7Z" fill="#2222ee"/>
<path d="M1943.0 2443.7L1953.0 2461.7H1933.0Z" fill="#2222ee"/>
<path d="M2000.0 2505.3L2010.5 2486.4H1989.5Z" fill="#ff2222"/>
<path d="M2020.9 2500.8L2031.4 2481.9H2010.4Z" fill="#ff2222"/>
<path d="M2001.0 2520.3L2011.5 2501.4H1990.5Z" fill="#ff2222"/>
<line x1="1728.20" y1="2335.20" x2="1728.20" y2="2672.90" stroke="#111" stroke-width="2.7" />
<line x1="1717.80" y1="2671.60" x2="2041.60" y2="2671.60" stroke="#111" stroke-width="2.8" />
<line x1="1717.80" y1="2336.50" x2="1728.20" y2="2336.50" stroke="#111" stroke-width="2.7" />
<text transform="translate(1712.5 2353.3) scale(0.92 1.04)" font-size="46" text-anchor="end" fill="#1a1a1a">2.0</text>
<line x1="1717.80" y1="2420.40" x2="1728.20" y2="2420.40" stroke="#111" stroke-width="2.7" />
<text transform="translate(1712.5 2437.2) scale(0.92 1.04)" font-size="46" text-anchor="end" fill="#1a1a1a">1.5</text>
<line x1="1717.80" y1="2504.60" x2="1728.20" y2="2504.60" stroke="#111" stroke-width="2.7" />
<text transform="translate(1712.5 2521.4) scale(0.92 1.04)" font-size="46" text-anchor="end" fill="#1a1a1a">1.0</text>
<line x1="1717.80" y1="2588.50" x2="1728.20" y2="2588.50" stroke="#111" stroke-width="2.7" />
<text transform="translate(1712.5 2605.3) scale(0.92 1.04)" font-size="46" text-anchor="end" fill="#1a1a1a">0.5</text>
<line x1="1717.80" y1="2671.60" x2="1728.20" y2="2671.60" stroke="#111" stroke-width="2.7" />
<text transform="translate(1712.5 2688.4) scale(0.92 1.04)" font-size="46" text-anchor="end" fill="#1a1a1a">0.0</text>
<line x1="1767.40" y1="2671.60" x2="1767.40" y2="2682.60" stroke="#111" stroke-width="2.7" />
<line x1="1845.40" y1="2671.60" x2="1845.40" y2="2682.60" stroke="#111" stroke-width="2.7" />
<line x1="1923.80" y1="2671.60" x2="1923.80" y2="2682.60" stroke="#111" stroke-width="2.7" />
<line x1="2001.90" y1="2671.60" x2="2001.90" y2="2682.60" stroke="#111" stroke-width="2.7" />
<text transform="translate(1780.0 2718.0) rotate(-45)" font-size="46" text-anchor="end" fill="#111">Man</text>
<text transform="translate(1858.0 2718.0) rotate(-45)" font-size="46" text-anchor="end" fill="#111">Man+Lira</text>
<text transform="translate(1936.0 2718.0) rotate(-45)" font-size="46" text-anchor="end" fill="#111">HG</text>
<text transform="translate(2014.0 2718.0) rotate(-45)" font-size="46" text-anchor="end" fill="#111">HG+Lira</text>
<text x="1922.5" y="2430.5" font-size="73" text-anchor="middle">*</text>
<text x="2000.0" y="2464.0" font-size="48" text-anchor="middle">#</text>
<text transform="translate(1580.0 2671.0) rotate(-90)" font-size="56.7" fill="#111">4-HNE/β-actin</text>
<text transform="translate(1633 2658) rotate(-90)" fill="#111" font-size="40.5"><tspan x="0">（</tspan><tspan x="163" text-anchor="middle" font-size="46">Fold of Man</tspan><tspan x="288">）</tspan></text>
</g>
</svg>
</body></html>
